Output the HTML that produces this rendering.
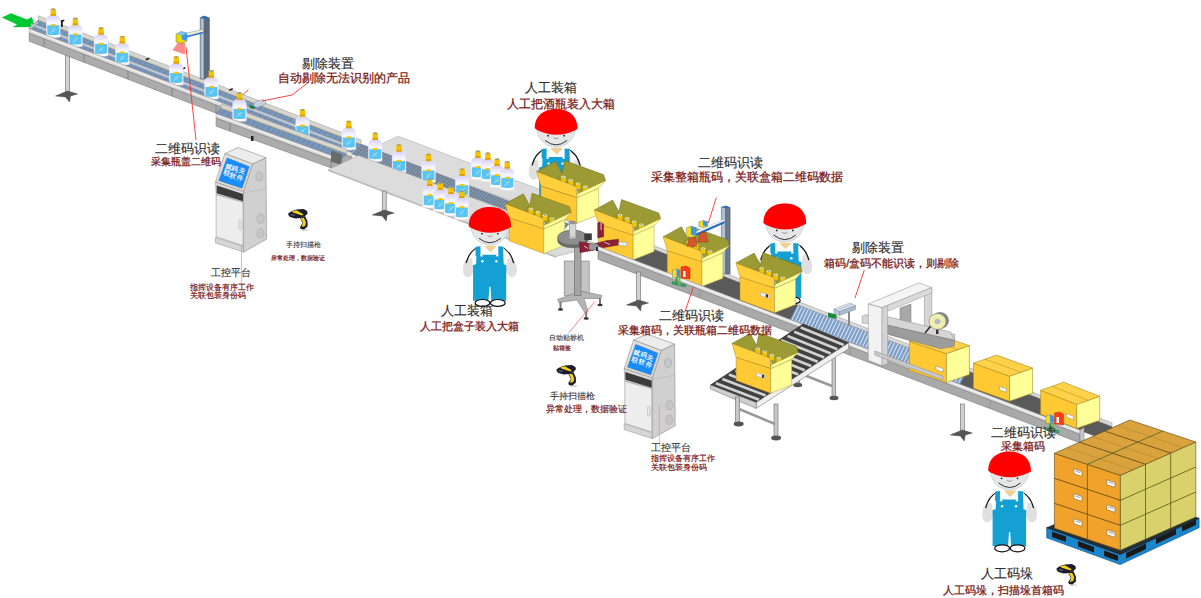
<!DOCTYPE html><html><head><meta charset="utf-8"><style>
html,body{margin:0;padding:0;background:#fff;width:1201px;height:598px;overflow:hidden}
svg{display:block;font-family:"Liberation Sans",sans-serif}
</style></head><body>
<svg width="1201" height="598" viewBox="0 0 1201 598">
<defs><linearGradient id="bg" x1="0" y1="0" x2="0" y2="1"><stop offset="0" stop-color="#d6cef8"/><stop offset="0.3" stop-color="#f6f4ff"/><stop offset="1" stop-color="#ffffff"/></linearGradient></defs>
<rect width="1201" height="598" fill="#fff"/>
<polygon points="1.8,17.6 11.1,13.2 26.9,19.6 31.9,17.0 35.1,27.0 12.6,27.2 17.0,24.6" fill="#00c832" stroke="none" stroke-width="0.6" />
<polygon points="398.2,136.2 600.0,212.1 575.0,224.0 370.3,149.3" fill="#dcdcdc" stroke="#b0b0b0" stroke-width="0.6" />
<polygon points="38.2,19.7 361.0,144.0 352.0,153.0 29.2,28.7" fill="#7391b4" stroke="#5d6f85" stroke-width="0.3" />
<polyline points="39.3,21.4 32.2,29.0" fill="none" stroke="#9db4cc" stroke-width="0.5" />
<polyline points="44.3,23.3 37.2,30.9" fill="none" stroke="#9db4cc" stroke-width="0.5" />
<polyline points="49.3,25.2 42.2,32.8" fill="none" stroke="#9db4cc" stroke-width="0.5" />
<polyline points="54.3,27.2 47.2,34.8" fill="none" stroke="#9db4cc" stroke-width="0.5" />
<polyline points="59.3,29.1 52.2,36.7" fill="none" stroke="#9db4cc" stroke-width="0.5" />
<polyline points="64.3,31.0 57.2,38.6" fill="none" stroke="#9db4cc" stroke-width="0.5" />
<polyline points="69.3,32.9 62.2,40.5" fill="none" stroke="#9db4cc" stroke-width="0.5" />
<polyline points="74.3,34.9 67.2,42.5" fill="none" stroke="#9db4cc" stroke-width="0.5" />
<polyline points="79.3,36.8 72.2,44.4" fill="none" stroke="#9db4cc" stroke-width="0.5" />
<polyline points="84.3,38.7 77.2,46.3" fill="none" stroke="#9db4cc" stroke-width="0.5" />
<polyline points="89.3,40.6 82.2,48.2" fill="none" stroke="#9db4cc" stroke-width="0.5" />
<polyline points="94.3,42.6 87.2,50.2" fill="none" stroke="#9db4cc" stroke-width="0.5" />
<polyline points="99.3,44.5 92.2,52.1" fill="none" stroke="#9db4cc" stroke-width="0.5" />
<polyline points="104.3,46.4 97.2,54.0" fill="none" stroke="#9db4cc" stroke-width="0.5" />
<polyline points="109.3,48.3 102.2,55.9" fill="none" stroke="#9db4cc" stroke-width="0.5" />
<polyline points="114.3,50.3 107.2,57.9" fill="none" stroke="#9db4cc" stroke-width="0.5" />
<polyline points="119.3,52.2 112.2,59.8" fill="none" stroke="#9db4cc" stroke-width="0.5" />
<polyline points="124.3,54.1 117.2,61.7" fill="none" stroke="#9db4cc" stroke-width="0.5" />
<polyline points="129.3,56.0 122.2,63.6" fill="none" stroke="#9db4cc" stroke-width="0.5" />
<polyline points="134.3,58.0 127.2,65.6" fill="none" stroke="#9db4cc" stroke-width="0.5" />
<polyline points="139.3,59.9 132.2,67.5" fill="none" stroke="#9db4cc" stroke-width="0.5" />
<polyline points="144.3,61.8 137.2,69.4" fill="none" stroke="#9db4cc" stroke-width="0.5" />
<polyline points="149.3,63.7 142.2,71.3" fill="none" stroke="#9db4cc" stroke-width="0.5" />
<polyline points="154.3,65.7 147.2,73.3" fill="none" stroke="#9db4cc" stroke-width="0.5" />
<polyline points="159.3,67.6 152.2,75.2" fill="none" stroke="#9db4cc" stroke-width="0.5" />
<polyline points="164.3,69.5 157.2,77.1" fill="none" stroke="#9db4cc" stroke-width="0.5" />
<polyline points="169.3,71.4 162.2,79.0" fill="none" stroke="#9db4cc" stroke-width="0.5" />
<polyline points="174.3,73.4 167.2,81.0" fill="none" stroke="#9db4cc" stroke-width="0.5" />
<polyline points="179.3,75.3 172.2,82.9" fill="none" stroke="#9db4cc" stroke-width="0.5" />
<polyline points="184.3,77.2 177.2,84.8" fill="none" stroke="#9db4cc" stroke-width="0.5" />
<polyline points="189.3,79.1 182.2,86.7" fill="none" stroke="#9db4cc" stroke-width="0.5" />
<polyline points="194.3,81.1 187.2,88.7" fill="none" stroke="#9db4cc" stroke-width="0.5" />
<polyline points="199.3,83.0 192.2,90.6" fill="none" stroke="#9db4cc" stroke-width="0.5" />
<polyline points="204.3,84.9 197.2,92.5" fill="none" stroke="#9db4cc" stroke-width="0.5" />
<polyline points="209.3,86.8 202.2,94.4" fill="none" stroke="#9db4cc" stroke-width="0.5" />
<polyline points="214.3,88.8 207.2,96.4" fill="none" stroke="#9db4cc" stroke-width="0.5" />
<polyline points="219.3,90.7 212.2,98.3" fill="none" stroke="#9db4cc" stroke-width="0.5" />
<polyline points="224.3,92.6 217.2,100.2" fill="none" stroke="#9db4cc" stroke-width="0.5" />
<polyline points="229.3,94.5 222.2,102.1" fill="none" stroke="#9db4cc" stroke-width="0.5" />
<polyline points="234.3,96.5 227.2,104.1" fill="none" stroke="#9db4cc" stroke-width="0.5" />
<polyline points="239.3,98.4 232.2,106.0" fill="none" stroke="#9db4cc" stroke-width="0.5" />
<polyline points="244.3,100.3 237.2,107.9" fill="none" stroke="#9db4cc" stroke-width="0.5" />
<polyline points="249.3,102.2 242.2,109.8" fill="none" stroke="#9db4cc" stroke-width="0.5" />
<polyline points="254.3,104.2 247.2,111.8" fill="none" stroke="#9db4cc" stroke-width="0.5" />
<polyline points="259.3,106.1 252.2,113.7" fill="none" stroke="#9db4cc" stroke-width="0.5" />
<polyline points="264.3,108.0 257.2,115.6" fill="none" stroke="#9db4cc" stroke-width="0.5" />
<polyline points="269.3,109.9 262.2,117.5" fill="none" stroke="#9db4cc" stroke-width="0.5" />
<polyline points="274.3,111.9 267.2,119.5" fill="none" stroke="#9db4cc" stroke-width="0.5" />
<polyline points="279.3,113.8 272.2,121.4" fill="none" stroke="#9db4cc" stroke-width="0.5" />
<polyline points="284.3,115.7 277.2,123.3" fill="none" stroke="#9db4cc" stroke-width="0.5" />
<polyline points="289.3,117.6 282.2,125.2" fill="none" stroke="#9db4cc" stroke-width="0.5" />
<polyline points="294.3,119.6 287.2,127.2" fill="none" stroke="#9db4cc" stroke-width="0.5" />
<polyline points="299.3,121.5 292.2,129.1" fill="none" stroke="#9db4cc" stroke-width="0.5" />
<polyline points="304.3,123.4 297.2,131.0" fill="none" stroke="#9db4cc" stroke-width="0.5" />
<polyline points="309.3,125.3 302.2,132.9" fill="none" stroke="#9db4cc" stroke-width="0.5" />
<polyline points="314.3,127.3 307.2,134.9" fill="none" stroke="#9db4cc" stroke-width="0.5" />
<polyline points="319.3,129.2 312.2,136.8" fill="none" stroke="#9db4cc" stroke-width="0.5" />
<polyline points="324.3,131.1 317.2,138.7" fill="none" stroke="#9db4cc" stroke-width="0.5" />
<polyline points="329.3,133.0 322.2,140.6" fill="none" stroke="#9db4cc" stroke-width="0.5" />
<polyline points="334.3,135.0 327.2,142.6" fill="none" stroke="#9db4cc" stroke-width="0.5" />
<polyline points="339.3,136.9 332.2,144.5" fill="none" stroke="#9db4cc" stroke-width="0.5" />
<polyline points="344.3,138.8 337.2,146.4" fill="none" stroke="#9db4cc" stroke-width="0.5" />
<polyline points="349.3,140.7 342.2,148.3" fill="none" stroke="#9db4cc" stroke-width="0.5" />
<polyline points="354.3,142.7 347.2,150.3" fill="none" stroke="#9db4cc" stroke-width="0.5" />
<polygon points="38.2,15.7 361.0,140.0 361.0,144.5 38.2,20.2" fill="#d6d6d6" stroke="#8e8e8e" stroke-width="0.5" />
<polyline points="38.2,19.4 361.0,143.7" fill="none" stroke="#d8c890" stroke-width="0.7" />
<polyline points="31.2,24.2 354.0,148.5" fill="none" stroke="#c4c8cc" stroke-width="2.2" />
<polygon points="361.0,144.0 569.0,224.1 560.0,234.1 352.0,154.0" fill="#6f8298" stroke="#56667a" stroke-width="0.4" />
<polyline points="361.0,144.5 352.3,153.5" fill="none" stroke="#a8b8c8" stroke-width="0.6" />
<polyline points="363.6,145.5 354.9,154.5" fill="none" stroke="#a8b8c8" stroke-width="0.6" />
<polyline points="366.2,146.5 357.5,155.5" fill="none" stroke="#a8b8c8" stroke-width="0.6" />
<polyline points="368.8,147.5 360.1,156.5" fill="none" stroke="#a8b8c8" stroke-width="0.6" />
<polyline points="371.4,148.5 362.7,157.5" fill="none" stroke="#a8b8c8" stroke-width="0.6" />
<polyline points="374.0,149.5 365.3,158.5" fill="none" stroke="#a8b8c8" stroke-width="0.6" />
<polyline points="376.6,150.5 367.9,159.5" fill="none" stroke="#a8b8c8" stroke-width="0.6" />
<polyline points="379.2,151.5 370.5,160.5" fill="none" stroke="#a8b8c8" stroke-width="0.6" />
<polyline points="381.8,152.5 373.1,161.5" fill="none" stroke="#a8b8c8" stroke-width="0.6" />
<polyline points="384.4,153.5 375.7,162.5" fill="none" stroke="#a8b8c8" stroke-width="0.6" />
<polyline points="387.0,154.5 378.3,163.5" fill="none" stroke="#a8b8c8" stroke-width="0.6" />
<polyline points="389.6,155.5 380.9,164.5" fill="none" stroke="#a8b8c8" stroke-width="0.6" />
<polyline points="392.2,156.5 383.5,165.5" fill="none" stroke="#a8b8c8" stroke-width="0.6" />
<polyline points="394.8,157.5 386.1,166.5" fill="none" stroke="#a8b8c8" stroke-width="0.6" />
<polyline points="397.4,158.5 388.7,167.5" fill="none" stroke="#a8b8c8" stroke-width="0.6" />
<polyline points="400.0,159.5 391.3,168.5" fill="none" stroke="#a8b8c8" stroke-width="0.6" />
<polyline points="402.6,160.5 393.9,169.5" fill="none" stroke="#a8b8c8" stroke-width="0.6" />
<polyline points="405.2,161.5 396.5,170.5" fill="none" stroke="#a8b8c8" stroke-width="0.6" />
<polyline points="407.8,162.5 399.1,171.5" fill="none" stroke="#a8b8c8" stroke-width="0.6" />
<polyline points="410.4,163.5 401.7,172.5" fill="none" stroke="#a8b8c8" stroke-width="0.6" />
<polyline points="413.0,164.5 404.3,173.5" fill="none" stroke="#a8b8c8" stroke-width="0.6" />
<polyline points="415.6,165.5 406.9,174.5" fill="none" stroke="#a8b8c8" stroke-width="0.6" />
<polyline points="418.2,166.5 409.5,175.5" fill="none" stroke="#a8b8c8" stroke-width="0.6" />
<polyline points="420.8,167.5 412.1,176.5" fill="none" stroke="#a8b8c8" stroke-width="0.6" />
<polyline points="423.4,168.5 414.7,177.5" fill="none" stroke="#a8b8c8" stroke-width="0.6" />
<polyline points="426.0,169.5 417.3,178.5" fill="none" stroke="#a8b8c8" stroke-width="0.6" />
<polyline points="428.6,170.5 419.9,179.5" fill="none" stroke="#a8b8c8" stroke-width="0.6" />
<polyline points="431.2,171.5 422.5,180.5" fill="none" stroke="#a8b8c8" stroke-width="0.6" />
<polyline points="433.8,172.5 425.1,181.5" fill="none" stroke="#a8b8c8" stroke-width="0.6" />
<polyline points="436.4,173.5 427.7,182.5" fill="none" stroke="#a8b8c8" stroke-width="0.6" />
<polyline points="439.0,174.5 430.3,183.5" fill="none" stroke="#a8b8c8" stroke-width="0.6" />
<polyline points="441.6,175.5 432.9,184.5" fill="none" stroke="#a8b8c8" stroke-width="0.6" />
<polyline points="444.2,176.5 435.5,185.5" fill="none" stroke="#a8b8c8" stroke-width="0.6" />
<polyline points="446.8,177.5 438.1,186.5" fill="none" stroke="#a8b8c8" stroke-width="0.6" />
<polyline points="449.4,178.5 440.7,187.5" fill="none" stroke="#a8b8c8" stroke-width="0.6" />
<polyline points="452.0,179.5 443.3,188.5" fill="none" stroke="#a8b8c8" stroke-width="0.6" />
<polyline points="454.6,180.5 445.9,189.5" fill="none" stroke="#a8b8c8" stroke-width="0.6" />
<polyline points="457.2,181.5 448.5,190.5" fill="none" stroke="#a8b8c8" stroke-width="0.6" />
<polyline points="459.8,182.5 451.1,191.5" fill="none" stroke="#a8b8c8" stroke-width="0.6" />
<polyline points="462.4,183.5 453.7,192.5" fill="none" stroke="#a8b8c8" stroke-width="0.6" />
<polyline points="465.0,184.5 456.3,193.5" fill="none" stroke="#a8b8c8" stroke-width="0.6" />
<polyline points="467.6,185.5 458.9,194.5" fill="none" stroke="#a8b8c8" stroke-width="0.6" />
<polyline points="470.2,186.5 461.5,195.5" fill="none" stroke="#a8b8c8" stroke-width="0.6" />
<polyline points="472.8,187.5 464.1,196.5" fill="none" stroke="#a8b8c8" stroke-width="0.6" />
<polyline points="475.4,188.5 466.7,197.5" fill="none" stroke="#a8b8c8" stroke-width="0.6" />
<polyline points="478.0,189.5 469.3,198.5" fill="none" stroke="#a8b8c8" stroke-width="0.6" />
<polyline points="480.6,190.5 471.9,199.5" fill="none" stroke="#a8b8c8" stroke-width="0.6" />
<polyline points="483.2,191.5 474.5,200.5" fill="none" stroke="#a8b8c8" stroke-width="0.6" />
<polyline points="485.8,192.5 477.1,201.5" fill="none" stroke="#a8b8c8" stroke-width="0.6" />
<polyline points="488.4,193.5 479.7,202.5" fill="none" stroke="#a8b8c8" stroke-width="0.6" />
<polyline points="491.0,194.5 482.3,203.5" fill="none" stroke="#a8b8c8" stroke-width="0.6" />
<polyline points="493.6,195.5 484.9,204.5" fill="none" stroke="#a8b8c8" stroke-width="0.6" />
<polyline points="496.2,196.5 487.5,205.5" fill="none" stroke="#a8b8c8" stroke-width="0.6" />
<polyline points="498.8,197.5 490.1,206.5" fill="none" stroke="#a8b8c8" stroke-width="0.6" />
<polyline points="501.4,198.5 492.7,207.5" fill="none" stroke="#a8b8c8" stroke-width="0.6" />
<polyline points="504.0,199.6 495.3,208.6" fill="none" stroke="#a8b8c8" stroke-width="0.6" />
<polyline points="506.6,200.6 497.9,209.6" fill="none" stroke="#a8b8c8" stroke-width="0.6" />
<polyline points="509.2,201.6 500.5,210.6" fill="none" stroke="#a8b8c8" stroke-width="0.6" />
<polyline points="511.8,202.6 503.1,211.6" fill="none" stroke="#a8b8c8" stroke-width="0.6" />
<polyline points="514.4,203.6 505.7,212.6" fill="none" stroke="#a8b8c8" stroke-width="0.6" />
<polyline points="517.0,204.6 508.3,213.6" fill="none" stroke="#a8b8c8" stroke-width="0.6" />
<polyline points="519.6,205.6 510.9,214.6" fill="none" stroke="#a8b8c8" stroke-width="0.6" />
<polyline points="522.2,206.6 513.5,215.6" fill="none" stroke="#a8b8c8" stroke-width="0.6" />
<polyline points="524.8,207.6 516.1,216.6" fill="none" stroke="#a8b8c8" stroke-width="0.6" />
<polyline points="527.4,208.6 518.7,217.6" fill="none" stroke="#a8b8c8" stroke-width="0.6" />
<polyline points="530.0,209.6 521.3,218.6" fill="none" stroke="#a8b8c8" stroke-width="0.6" />
<polyline points="532.6,210.6 523.9,219.6" fill="none" stroke="#a8b8c8" stroke-width="0.6" />
<polyline points="535.2,211.6 526.5,220.6" fill="none" stroke="#a8b8c8" stroke-width="0.6" />
<polyline points="537.8,212.6 529.1,221.6" fill="none" stroke="#a8b8c8" stroke-width="0.6" />
<polyline points="540.4,213.6 531.7,222.6" fill="none" stroke="#a8b8c8" stroke-width="0.6" />
<polyline points="543.0,214.6 534.3,223.6" fill="none" stroke="#a8b8c8" stroke-width="0.6" />
<polyline points="545.6,215.6 536.9,224.6" fill="none" stroke="#a8b8c8" stroke-width="0.6" />
<polyline points="548.2,216.6 539.5,225.6" fill="none" stroke="#a8b8c8" stroke-width="0.6" />
<polyline points="550.8,217.6 542.1,226.6" fill="none" stroke="#a8b8c8" stroke-width="0.6" />
<polyline points="553.4,218.6 544.7,227.6" fill="none" stroke="#a8b8c8" stroke-width="0.6" />
<polyline points="556.0,219.6 547.3,228.6" fill="none" stroke="#a8b8c8" stroke-width="0.6" />
<polyline points="558.6,220.6 549.9,229.6" fill="none" stroke="#a8b8c8" stroke-width="0.6" />
<polyline points="561.2,221.6 552.5,230.6" fill="none" stroke="#a8b8c8" stroke-width="0.6" />
<polyline points="563.8,222.6 555.1,231.6" fill="none" stroke="#a8b8c8" stroke-width="0.6" />
<polyline points="566.4,223.6 557.7,232.6" fill="none" stroke="#a8b8c8" stroke-width="0.6" />
<polygon points="29.2,27.6 38.2,20.6 38.2,23.2 29.2,30.2" fill="#c8c8c8" stroke="#7a7a7a" stroke-width="0.4" />
<rect x="61.0" y="20.0" width="1.8" height="7.0" fill="#222" stroke="none" stroke-width="0.6" />
<rect x="65.5" y="55.0" width="4.0" height="38.0" fill="#d0d0d0" stroke="#6a6a6a" stroke-width="0.6" />
<polygon points="55.5,96.0 67.5,91.0 77.5,94.0 70.5,96.0 69.5,102.0 65.5,97.0" fill="#555555" stroke="#333" stroke-width="0.4" />
<rect x="154.0" y="85.0" width="2.5" height="5.0" fill="#222" stroke="none" stroke-width="0.6" />
<polygon points="200.2,17.5 204.4,16.0 204.4,79.0 200.2,79.0" fill="#92b2ce" stroke="#3c4c5c" stroke-width="0.5" />
<polyline points="202.3,19.0 202.3,78.0" fill="none" stroke="#c8dcec" stroke-width="0.8" />
<polygon points="204.4,16.0 209.4,18.0 209.4,79.0 204.4,79.0" fill="#5e6a76" stroke="#3c4c5c" stroke-width="0.5" />
<polygon points="200.2,17.5 204.4,16.0 209.4,18.0 205.0,19.5" fill="#2b6fb0" stroke="none" stroke-width="0.6" />
<polygon points="185.0,33.5 203.5,29.3 203.5,31.8 185.0,36.5" fill="#f2f0d6" stroke="#7a8aa0" stroke-width="0.5" />
<polygon points="185.0,36.5 203.5,31.8 203.5,33.2 185.0,38.0" fill="#2e78c8" stroke="none" stroke-width="0.6" />
<polygon points="177.6,42.7 185.1,42.7 185.1,54.4 172.6,50.2" fill="#ff8a8a" stroke="none" stroke-width="0.6" />
<polygon points="176.0,34.0 181.0,31.5 187.0,33.0 187.0,41.0 182.0,43.5 176.0,42.0" fill="#e8d800" stroke="#5a6a30" stroke-width="0.4" />
<polygon points="181.0,31.5 187.0,33.0 187.0,41.0 182.0,39.5" fill="#3a9ae8" stroke="none" stroke-width="0.6" />
<polygon points="176.0,34.0 181.0,31.5 187.0,33.0 182.0,35.5" fill="#7fc0f0" stroke="none" stroke-width="0.6" />
<polygon points="145.5,59.0 149.0,57.5 149.5,59.0 146.0,60.5" fill="#1a1a1a" stroke="none" stroke-width="0.6" />
<polygon points="181.5,68.5 185.0,67.0 185.5,68.5 182.0,70.0" fill="#1a1a1a" stroke="none" stroke-width="0.6" />
<polygon points="229.0,89.4 232.5,87.9 233.0,89.4 229.5,90.9" fill="#1a1a1a" stroke="none" stroke-width="0.6" />
<polygon points="60.5,21.0 64.0,19.5 64.5,21.0 61.0,22.5" fill="#1a1a1a" stroke="none" stroke-width="0.6" />
<path d="M46.5,36.9 L46.5,20.7 Q46.5,15.6 51.3,15.6 L55.3,15.6 Q60.099999999999994,15.6 60.099999999999994,20.7 L60.099999999999994,36.9 Q53.3,38.5 46.5,36.9 Z" fill="url(#bg)" stroke="#ebe6f8" stroke-width="0.5"/>
<path d="M50.599999999999994,9.399999999999999 Q50.599999999999994,8.2 53.3,8.2 Q56.0,8.2 56.0,9.399999999999999 L56.0,15.799999999999999 L50.599999999999994,15.799999999999999 Z" fill="#f6c200"/>
<rect x="50.6" y="14.0" width="5.4" height="1.8" fill="#dca000" stroke="none" stroke-width="0.6" />
<ellipse cx="53.3" cy="9.2" rx="1.9" ry="0.8" fill="#7f98c0" stroke="none" stroke-width="0.6" />
<path d="M47.3,25.2 L59.3,25.2 L59.3,34.5 Q53.3,35.8 47.3,34.5 Z" fill="#58c4f2"/>
<ellipse cx="53.3" cy="25.0" rx="2.8" ry="1.1" fill="#f6c400" stroke="none" stroke-width="0.6" />
<polyline points="50.8,32.7 55.8,28.0" fill="none" stroke="#d8f2ff" stroke-width="0.7" />
<polyline points="51.3,28.7 54.8,31.7" fill="none" stroke="#bfe6f8" stroke-width="0.5" />
<path d="M68.60000000000001,46.3 L68.60000000000001,30.1 Q68.60000000000001,25.0 73.4,25.0 L77.4,25.0 Q82.2,25.0 82.2,30.1 L82.2,46.3 Q75.4,47.9 68.60000000000001,46.3 Z" fill="url(#bg)" stroke="#ebe6f8" stroke-width="0.5"/>
<path d="M72.7,18.8 Q72.7,17.6 75.4,17.6 Q78.10000000000001,17.6 78.10000000000001,18.8 L78.10000000000001,25.200000000000003 L72.7,25.200000000000003 Z" fill="#f6c200"/>
<rect x="72.7" y="23.4" width="5.4" height="1.8" fill="#dca000" stroke="none" stroke-width="0.6" />
<ellipse cx="75.4" cy="18.6" rx="1.9" ry="0.8" fill="#7f98c0" stroke="none" stroke-width="0.6" />
<path d="M69.4,34.6 L81.4,34.6 L81.4,43.900000000000006 Q75.4,45.2 69.4,43.900000000000006 Z" fill="#58c4f2"/>
<ellipse cx="75.4" cy="34.4" rx="2.8" ry="1.1" fill="#f6c400" stroke="none" stroke-width="0.6" />
<polyline points="72.9,42.1 77.9,37.4" fill="none" stroke="#d8f2ff" stroke-width="0.7" />
<polyline points="73.4,38.1 76.9,41.1" fill="none" stroke="#bfe6f8" stroke-width="0.5" />
<path d="M94.3,55.7 L94.3,39.5 Q94.3,34.4 99.1,34.4 L103.1,34.4 Q107.89999999999999,34.4 107.89999999999999,39.5 L107.89999999999999,55.7 Q101.1,57.300000000000004 94.3,55.7 Z" fill="url(#bg)" stroke="#ebe6f8" stroke-width="0.5"/>
<path d="M98.39999999999999,28.2 Q98.39999999999999,27 101.1,27 Q103.8,27 103.8,28.2 L103.8,34.6 L98.39999999999999,34.6 Z" fill="#f6c200"/>
<rect x="98.4" y="32.8" width="5.4" height="1.8" fill="#dca000" stroke="none" stroke-width="0.6" />
<ellipse cx="101.1" cy="28.0" rx="1.9" ry="0.8" fill="#7f98c0" stroke="none" stroke-width="0.6" />
<path d="M95.1,44 L107.1,44 L107.1,53.3 Q101.1,54.6 95.1,53.3 Z" fill="#58c4f2"/>
<ellipse cx="101.1" cy="43.8" rx="2.8" ry="1.1" fill="#f6c400" stroke="none" stroke-width="0.6" />
<polyline points="98.6,51.5 103.6,46.8" fill="none" stroke="#d8f2ff" stroke-width="0.7" />
<polyline points="99.1,47.5 102.6,50.5" fill="none" stroke="#bfe6f8" stroke-width="0.5" />
<path d="M115.5,64.4 L115.5,48.2 Q115.5,43.1 120.3,43.1 L124.3,43.1 Q129.1,43.1 129.1,48.2 L129.1,64.4 Q122.3,66.0 115.5,64.4 Z" fill="url(#bg)" stroke="#ebe6f8" stroke-width="0.5"/>
<path d="M119.6,36.900000000000006 Q119.6,35.7 122.3,35.7 Q125.0,35.7 125.0,36.900000000000006 L125.0,43.300000000000004 L119.6,43.300000000000004 Z" fill="#f6c200"/>
<rect x="119.6" y="41.5" width="5.4" height="1.8" fill="#dca000" stroke="none" stroke-width="0.6" />
<ellipse cx="122.3" cy="36.7" rx="1.9" ry="0.8" fill="#7f98c0" stroke="none" stroke-width="0.6" />
<path d="M116.3,52.7 L128.3,52.7 L128.3,62.0 Q122.3,63.300000000000004 116.3,62.0 Z" fill="#58c4f2"/>
<ellipse cx="122.3" cy="52.5" rx="2.8" ry="1.1" fill="#f6c400" stroke="none" stroke-width="0.6" />
<polyline points="119.8,60.2 124.8,55.5" fill="none" stroke="#d8f2ff" stroke-width="0.7" />
<polyline points="120.3,56.2 123.8,59.2" fill="none" stroke="#bfe6f8" stroke-width="0.5" />
<path d="M169.5,84.7 L169.5,68.5 Q169.5,63.4 174.3,63.4 L178.3,63.4 Q183.10000000000002,63.4 183.10000000000002,68.5 L183.10000000000002,84.7 Q176.3,86.3 169.5,84.7 Z" fill="url(#bg)" stroke="#ebe6f8" stroke-width="0.5"/>
<path d="M173.60000000000002,57.2 Q173.60000000000002,56 176.3,56 Q179.0,56 179.0,57.2 L179.0,63.6 L173.60000000000002,63.6 Z" fill="#f6c200"/>
<rect x="173.6" y="61.8" width="5.4" height="1.8" fill="#dca000" stroke="none" stroke-width="0.6" />
<ellipse cx="176.3" cy="57.0" rx="1.9" ry="0.8" fill="#7f98c0" stroke="none" stroke-width="0.6" />
<path d="M170.3,73 L182.3,73 L182.3,82.3 Q176.3,83.6 170.3,82.3 Z" fill="#58c4f2"/>
<ellipse cx="176.3" cy="72.8" rx="2.8" ry="1.1" fill="#f6c400" stroke="none" stroke-width="0.6" />
<polyline points="173.8,80.5 178.8,75.8" fill="none" stroke="#d8f2ff" stroke-width="0.7" />
<polyline points="174.3,76.5 177.8,79.5" fill="none" stroke="#bfe6f8" stroke-width="0.5" />
<path d="M204.6,98.7 L204.6,82.5 Q204.6,77.4 209.4,77.4 L213.4,77.4 Q218.20000000000002,77.4 218.20000000000002,82.5 L218.20000000000002,98.7 Q211.4,100.3 204.6,98.7 Z" fill="url(#bg)" stroke="#ebe6f8" stroke-width="0.5"/>
<path d="M208.70000000000002,71.2 Q208.70000000000002,70 211.4,70 Q214.1,70 214.1,71.2 L214.1,77.6 L208.70000000000002,77.6 Z" fill="#f6c200"/>
<rect x="208.7" y="75.8" width="5.4" height="1.8" fill="#dca000" stroke="none" stroke-width="0.6" />
<ellipse cx="211.4" cy="71.0" rx="1.9" ry="0.8" fill="#7f98c0" stroke="none" stroke-width="0.6" />
<path d="M205.4,87 L217.4,87 L217.4,96.3 Q211.4,97.6 205.4,96.3 Z" fill="#58c4f2"/>
<ellipse cx="211.4" cy="86.8" rx="2.8" ry="1.1" fill="#f6c400" stroke="none" stroke-width="0.6" />
<polyline points="208.9,94.5 213.9,89.8" fill="none" stroke="#d8f2ff" stroke-width="0.7" />
<polyline points="209.4,90.5 212.9,93.5" fill="none" stroke="#bfe6f8" stroke-width="0.5" />
<path d="M295.7,137.6 L295.7,121.4 Q295.7,116.30000000000001 300.5,116.30000000000001 L304.5,116.30000000000001 Q309.3,116.30000000000001 309.3,121.4 L309.3,137.6 Q302.5,139.2 295.7,137.6 Z" fill="url(#bg)" stroke="#ebe6f8" stroke-width="0.5"/>
<path d="M299.8,110.10000000000001 Q299.8,108.9 302.5,108.9 Q305.2,108.9 305.2,110.10000000000001 L305.2,116.5 L299.8,116.5 Z" fill="#f6c200"/>
<rect x="299.8" y="114.7" width="5.4" height="1.8" fill="#dca000" stroke="none" stroke-width="0.6" />
<ellipse cx="302.5" cy="109.9" rx="1.9" ry="0.8" fill="#7f98c0" stroke="none" stroke-width="0.6" />
<path d="M296.5,125.9 L308.5,125.9 L308.5,135.20000000000002 Q302.5,136.5 296.5,135.20000000000002 Z" fill="#58c4f2"/>
<ellipse cx="302.5" cy="125.7" rx="2.8" ry="1.1" fill="#f6c400" stroke="none" stroke-width="0.6" />
<polyline points="300.0,133.4 305.0,128.7" fill="none" stroke="#d8f2ff" stroke-width="0.7" />
<polyline points="300.5,129.4 304.0,132.4" fill="none" stroke="#bfe6f8" stroke-width="0.5" />
<path d="M342.0,149.29999999999998 L342.0,133.1 Q342.0,128.0 346.8,128.0 L350.8,128.0 Q355.6,128.0 355.6,133.1 L355.6,149.29999999999998 Q348.8,150.89999999999998 342.0,149.29999999999998 Z" fill="url(#bg)" stroke="#ebe6f8" stroke-width="0.5"/>
<path d="M346.1,121.8 Q346.1,120.6 348.8,120.6 Q351.5,120.6 351.5,121.8 L351.5,128.2 L346.1,128.2 Z" fill="#f6c200"/>
<rect x="346.1" y="126.4" width="5.4" height="1.8" fill="#dca000" stroke="none" stroke-width="0.6" />
<ellipse cx="348.8" cy="121.6" rx="1.9" ry="0.8" fill="#7f98c0" stroke="none" stroke-width="0.6" />
<path d="M342.8,137.6 L354.8,137.6 L354.8,146.9 Q348.8,148.2 342.8,146.9 Z" fill="#58c4f2"/>
<ellipse cx="348.8" cy="137.4" rx="2.8" ry="1.1" fill="#f6c400" stroke="none" stroke-width="0.6" />
<polyline points="346.3,145.1 351.3,140.4" fill="none" stroke="#d8f2ff" stroke-width="0.7" />
<polyline points="346.8,141.1 350.3,144.1" fill="none" stroke="#bfe6f8" stroke-width="0.5" />
<path d="M368.4,161.0 L368.4,144.8 Q368.4,139.70000000000002 373.2,139.70000000000002 L377.2,139.70000000000002 Q382.0,139.70000000000002 382.0,144.8 L382.0,161.0 Q375.2,162.6 368.4,161.0 Z" fill="url(#bg)" stroke="#ebe6f8" stroke-width="0.5"/>
<path d="M372.5,133.5 Q372.5,132.3 375.2,132.3 Q377.9,132.3 377.9,133.5 L377.9,139.9 L372.5,139.9 Z" fill="#f6c200"/>
<rect x="372.5" y="138.1" width="5.4" height="1.8" fill="#dca000" stroke="none" stroke-width="0.6" />
<ellipse cx="375.2" cy="133.3" rx="1.9" ry="0.8" fill="#7f98c0" stroke="none" stroke-width="0.6" />
<path d="M369.2,149.3 L381.2,149.3 L381.2,158.60000000000002 Q375.2,159.9 369.2,158.60000000000002 Z" fill="#58c4f2"/>
<ellipse cx="375.2" cy="149.1" rx="2.8" ry="1.1" fill="#f6c400" stroke="none" stroke-width="0.6" />
<polyline points="372.7,156.8 377.7,152.1" fill="none" stroke="#d8f2ff" stroke-width="0.7" />
<polyline points="373.2,152.8 376.7,155.8" fill="none" stroke="#bfe6f8" stroke-width="0.5" />
<path d="M392.2,172.7 L392.2,156.5 Q392.2,151.4 397,151.4 L401,151.4 Q405.8,151.4 405.8,156.5 L405.8,172.7 Q399,174.29999999999998 392.2,172.7 Z" fill="url(#bg)" stroke="#ebe6f8" stroke-width="0.5"/>
<path d="M396.3,145.2 Q396.3,144 399,144 Q401.7,144 401.7,145.2 L401.7,151.6 L396.3,151.6 Z" fill="#f6c200"/>
<rect x="396.3" y="149.8" width="5.4" height="1.8" fill="#dca000" stroke="none" stroke-width="0.6" />
<ellipse cx="399.0" cy="145.0" rx="1.9" ry="0.8" fill="#7f98c0" stroke="none" stroke-width="0.6" />
<path d="M393,161 L405,161 L405,170.3 Q399,171.6 393,170.3 Z" fill="#58c4f2"/>
<ellipse cx="399.0" cy="160.8" rx="2.8" ry="1.1" fill="#f6c400" stroke="none" stroke-width="0.6" />
<polyline points="396.5,168.5 401.5,163.8" fill="none" stroke="#d8f2ff" stroke-width="0.7" />
<polyline points="397.0,164.5 400.5,167.5" fill="none" stroke="#bfe6f8" stroke-width="0.5" />
<path d="M421.7,182.2 L421.7,166.0 Q421.7,160.9 426.5,160.9 L430.5,160.9 Q435.3,160.9 435.3,166.0 L435.3,182.2 Q428.5,183.79999999999998 421.7,182.2 Z" fill="url(#bg)" stroke="#ebe6f8" stroke-width="0.5"/>
<path d="M425.8,154.7 Q425.8,153.5 428.5,153.5 Q431.2,153.5 431.2,154.7 L431.2,161.1 L425.8,161.1 Z" fill="#f6c200"/>
<rect x="425.8" y="159.3" width="5.4" height="1.8" fill="#dca000" stroke="none" stroke-width="0.6" />
<ellipse cx="428.5" cy="154.5" rx="1.9" ry="0.8" fill="#7f98c0" stroke="none" stroke-width="0.6" />
<path d="M422.5,170.5 L434.5,170.5 L434.5,179.8 Q428.5,181.1 422.5,179.8 Z" fill="#58c4f2"/>
<ellipse cx="428.5" cy="170.3" rx="2.8" ry="1.1" fill="#f6c400" stroke="none" stroke-width="0.6" />
<polyline points="426.0,178.0 431.0,173.3" fill="none" stroke="#d8f2ff" stroke-width="0.7" />
<polyline points="426.5,174.0 430.0,177.0" fill="none" stroke="#bfe6f8" stroke-width="0.5" />
<path d="M455.4,196.89999999999998 L455.4,180.7 Q455.4,175.6 460.2,175.6 L464.2,175.6 Q469.0,175.6 469.0,180.7 L469.0,196.89999999999998 Q462.2,198.49999999999997 455.4,196.89999999999998 Z" fill="url(#bg)" stroke="#ebe6f8" stroke-width="0.5"/>
<path d="M459.5,169.39999999999998 Q459.5,168.2 462.2,168.2 Q464.9,168.2 464.9,169.39999999999998 L464.9,175.79999999999998 L459.5,175.79999999999998 Z" fill="#f6c200"/>
<rect x="459.5" y="174.0" width="5.4" height="1.8" fill="#dca000" stroke="none" stroke-width="0.6" />
<ellipse cx="462.2" cy="169.2" rx="1.9" ry="0.8" fill="#7f98c0" stroke="none" stroke-width="0.6" />
<path d="M456.2,185.2 L468.2,185.2 L468.2,194.5 Q462.2,195.79999999999998 456.2,194.5 Z" fill="#58c4f2"/>
<ellipse cx="462.2" cy="185.0" rx="2.8" ry="1.1" fill="#f6c400" stroke="none" stroke-width="0.6" />
<polyline points="459.7,192.7 464.7,188.0" fill="none" stroke="#d8f2ff" stroke-width="0.7" />
<polyline points="460.2,188.7 463.7,191.7" fill="none" stroke="#bfe6f8" stroke-width="0.5" />
<polygon points="29.2,28.4 352.0,152.7 352.0,157.5 29.2,33.2" fill="#dadada" stroke="#8a8a8a" stroke-width="0.5" />
<polyline points="29.2,30.2 352.0,154.5" fill="none" stroke="#f4f4f4" stroke-width="1.0" />
<polygon points="29.2,33.2 352.0,157.5 352.0,165.5 29.2,41.2" fill="#acacac" stroke="#7a7a7a" stroke-width="0.6" />
<polyline points="44.0,38.9 44.0,46.9" fill="none" stroke="#7a7a7a" stroke-width="0.8" />
<polyline points="84.0,54.3 84.0,62.3" fill="none" stroke="#7a7a7a" stroke-width="0.8" />
<polyline points="128.0,71.3 128.0,79.3" fill="none" stroke="#7a7a7a" stroke-width="0.8" />
<polyline points="172.0,88.2 172.0,96.2" fill="none" stroke="#7a7a7a" stroke-width="0.8" />
<polyline points="216.0,105.1 216.0,113.1" fill="none" stroke="#7a7a7a" stroke-width="0.8" />
<polyline points="260.0,122.1 260.0,130.1" fill="none" stroke="#7a7a7a" stroke-width="0.8" />
<polyline points="304.0,139.0 304.0,147.0" fill="none" stroke="#7a7a7a" stroke-width="0.8" />
<polygon points="254.0,103.0 262.5,99.5 265.5,101.0 265.5,104.0 257.0,107.5 254.0,106.0" fill="#d0d8e2" stroke="#7a8490" stroke-width="0.5" />
<polyline points="256.0,105.5 264.0,102.0" fill="none" stroke="#a8c0d8" stroke-width="0.8" />
<polygon points="249.5,105.2 254.4,106.5 254.4,109.2 249.5,108.0" fill="#1a7a36" stroke="none" stroke-width="0.6" />
<polygon points="221.1,107.7 346.8,153.3 341.8,159.3 216.1,113.7" fill="#7391b4" stroke="#5d6f85" stroke-width="0.3" />
<polyline points="222.6,109.0 219.1,113.9" fill="none" stroke="#9db4cc" stroke-width="0.5" />
<polyline points="227.6,110.8 224.1,115.7" fill="none" stroke="#9db4cc" stroke-width="0.5" />
<polyline points="232.6,112.7 229.1,117.6" fill="none" stroke="#9db4cc" stroke-width="0.5" />
<polyline points="237.6,114.5 234.1,119.4" fill="none" stroke="#9db4cc" stroke-width="0.5" />
<polyline points="242.6,116.3 239.1,121.2" fill="none" stroke="#9db4cc" stroke-width="0.5" />
<polyline points="247.6,118.1 244.1,123.0" fill="none" stroke="#9db4cc" stroke-width="0.5" />
<polyline points="252.6,119.9 249.1,124.8" fill="none" stroke="#9db4cc" stroke-width="0.5" />
<polyline points="257.6,121.7 254.1,126.6" fill="none" stroke="#9db4cc" stroke-width="0.5" />
<polyline points="262.6,123.5 259.1,128.4" fill="none" stroke="#9db4cc" stroke-width="0.5" />
<polyline points="267.6,125.4 264.1,130.3" fill="none" stroke="#9db4cc" stroke-width="0.5" />
<polyline points="272.6,127.2 269.1,132.1" fill="none" stroke="#9db4cc" stroke-width="0.5" />
<polyline points="277.6,129.0 274.1,133.9" fill="none" stroke="#9db4cc" stroke-width="0.5" />
<polyline points="282.6,130.8 279.1,135.7" fill="none" stroke="#9db4cc" stroke-width="0.5" />
<polyline points="287.6,132.6 284.1,137.5" fill="none" stroke="#9db4cc" stroke-width="0.5" />
<polyline points="292.6,134.4 289.1,139.3" fill="none" stroke="#9db4cc" stroke-width="0.5" />
<polyline points="297.6,136.3 294.1,141.2" fill="none" stroke="#9db4cc" stroke-width="0.5" />
<polyline points="302.6,138.1 299.1,143.0" fill="none" stroke="#9db4cc" stroke-width="0.5" />
<polyline points="307.6,139.9 304.1,144.8" fill="none" stroke="#9db4cc" stroke-width="0.5" />
<polyline points="312.6,141.7 309.1,146.6" fill="none" stroke="#9db4cc" stroke-width="0.5" />
<polyline points="317.6,143.5 314.1,148.4" fill="none" stroke="#9db4cc" stroke-width="0.5" />
<polyline points="322.6,145.3 319.1,150.2" fill="none" stroke="#9db4cc" stroke-width="0.5" />
<polyline points="327.6,147.1 324.1,152.0" fill="none" stroke="#9db4cc" stroke-width="0.5" />
<polyline points="332.6,149.0 329.1,153.9" fill="none" stroke="#9db4cc" stroke-width="0.5" />
<polyline points="337.6,150.8 334.1,155.7" fill="none" stroke="#9db4cc" stroke-width="0.5" />
<polyline points="342.6,152.6 339.1,157.5" fill="none" stroke="#9db4cc" stroke-width="0.5" />
<polygon points="221.1,103.7 346.8,149.3 346.8,153.8 221.1,108.2" fill="#d6d6d6" stroke="#8e8e8e" stroke-width="0.5" />
<polyline points="221.1,107.4 346.8,153.0" fill="none" stroke="#d8c890" stroke-width="0.7" />
<path d="M232.7,120.8 L232.7,104.6 Q232.7,99.5 237.5,99.5 L241.5,99.5 Q246.3,99.5 246.3,104.6 L246.3,120.8 Q239.5,122.39999999999999 232.7,120.8 Z" fill="url(#bg)" stroke="#ebe6f8" stroke-width="0.5"/>
<path d="M236.8,93.3 Q236.8,92.1 239.5,92.1 Q242.2,92.1 242.2,93.3 L242.2,99.69999999999999 L236.8,99.69999999999999 Z" fill="#f6c200"/>
<rect x="236.8" y="97.9" width="5.4" height="1.8" fill="#dca000" stroke="none" stroke-width="0.6" />
<ellipse cx="239.5" cy="93.1" rx="1.9" ry="0.8" fill="#7f98c0" stroke="none" stroke-width="0.6" />
<path d="M233.5,109.1 L245.5,109.1 L245.5,118.39999999999999 Q239.5,119.69999999999999 233.5,118.39999999999999 Z" fill="#58c4f2"/>
<ellipse cx="239.5" cy="108.9" rx="2.8" ry="1.1" fill="#f6c400" stroke="none" stroke-width="0.6" />
<polyline points="237.0,116.6 242.0,111.9" fill="none" stroke="#d8f2ff" stroke-width="0.7" />
<polyline points="237.5,112.6 241.0,115.6" fill="none" stroke="#bfe6f8" stroke-width="0.5" />
<polygon points="216.1,113.4 341.8,159.0 341.8,163.8 216.1,118.2" fill="#dadada" stroke="#8a8a8a" stroke-width="0.5" />
<polyline points="216.1,115.2 341.8,160.8" fill="none" stroke="#f4f4f4" stroke-width="1.0" />
<polygon points="216.1,118.2 341.8,163.8 341.8,171.8 216.1,126.2" fill="#acacac" stroke="#7a7a7a" stroke-width="0.6" />
<polyline points="230.0,123.2 230.0,131.2" fill="none" stroke="#7a7a7a" stroke-width="0.8" />
<polyline points="331.0,159.9 331.0,167.9" fill="none" stroke="#7a7a7a" stroke-width="0.8" />
<polygon points="331.0,150.5 341.8,154.2 341.8,165.2 331.0,161.5" fill="#6a6a6a" stroke="none" stroke-width="0.6" />
<rect x="251.0" y="136.0" width="2.5" height="5.0" fill="#222" stroke="none" stroke-width="0.6" />
<polygon points="358.5,155.5 600.0,245.0 556.0,256.5 328.3,169.7" fill="#dcdcdc" stroke="#a8a8a8" stroke-width="0.6" />
<polyline points="328.3,170.5 556.0,257.3" fill="none" stroke="#9a9a9a" stroke-width="0.8" />
<rect x="382.2" y="191.0" width="4.0" height="21.0" fill="#d0d0d0" stroke="#6a6a6a" stroke-width="0.6" />
<polygon points="372.2,215.0 384.2,210.0 394.2,213.0 387.2,215.0 386.2,221.0 382.2,216.0" fill="#555555" stroke="#333" stroke-width="0.4" />
<path d="M471.09999999999997,179.0 L471.09999999999997,162.8 Q471.09999999999997,157.70000000000002 475.9,157.70000000000002 L479.9,157.70000000000002 Q484.7,157.70000000000002 484.7,162.8 L484.7,179.0 Q477.9,180.6 471.09999999999997,179.0 Z" fill="url(#bg)" stroke="#ebe6f8" stroke-width="0.5"/>
<path d="M475.2,151.5 Q475.2,150.3 477.9,150.3 Q480.59999999999997,150.3 480.59999999999997,151.5 L480.59999999999997,157.9 L475.2,157.9 Z" fill="#f6c200"/>
<rect x="475.2" y="156.1" width="5.4" height="1.8" fill="#dca000" stroke="none" stroke-width="0.6" />
<ellipse cx="477.9" cy="151.3" rx="1.9" ry="0.8" fill="#7f98c0" stroke="none" stroke-width="0.6" />
<path d="M471.9,167.3 L483.9,167.3 L483.9,176.60000000000002 Q477.9,177.9 471.9,176.60000000000002 Z" fill="#58c4f2"/>
<ellipse cx="477.9" cy="167.1" rx="2.8" ry="1.1" fill="#f6c400" stroke="none" stroke-width="0.6" />
<polyline points="475.4,174.8 480.4,170.1" fill="none" stroke="#d8f2ff" stroke-width="0.7" />
<polyline points="475.9,170.8 479.4,173.8" fill="none" stroke="#bfe6f8" stroke-width="0.5" />
<path d="M481.0,180.89999999999998 L481.0,164.7 Q481.0,159.6 485.8,159.6 L489.8,159.6 Q494.6,159.6 494.6,164.7 L494.6,180.89999999999998 Q487.8,182.49999999999997 481.0,180.89999999999998 Z" fill="url(#bg)" stroke="#ebe6f8" stroke-width="0.5"/>
<path d="M485.1,153.39999999999998 Q485.1,152.2 487.8,152.2 Q490.5,152.2 490.5,153.39999999999998 L490.5,159.79999999999998 L485.1,159.79999999999998 Z" fill="#f6c200"/>
<rect x="485.1" y="158.0" width="5.4" height="1.8" fill="#dca000" stroke="none" stroke-width="0.6" />
<ellipse cx="487.8" cy="153.2" rx="1.9" ry="0.8" fill="#7f98c0" stroke="none" stroke-width="0.6" />
<path d="M481.8,169.2 L493.8,169.2 L493.8,178.5 Q487.8,179.79999999999998 481.8,178.5 Z" fill="#58c4f2"/>
<ellipse cx="487.8" cy="169.0" rx="2.8" ry="1.1" fill="#f6c400" stroke="none" stroke-width="0.6" />
<polyline points="485.3,176.7 490.3,172.0" fill="none" stroke="#d8f2ff" stroke-width="0.7" />
<polyline points="485.8,172.7 489.3,175.7" fill="none" stroke="#bfe6f8" stroke-width="0.5" />
<path d="M490.3,187.0 L490.3,170.8 Q490.3,165.70000000000002 495.1,165.70000000000002 L499.1,165.70000000000002 Q503.90000000000003,165.70000000000002 503.90000000000003,170.8 L503.90000000000003,187.0 Q497.1,188.6 490.3,187.0 Z" fill="url(#bg)" stroke="#ebe6f8" stroke-width="0.5"/>
<path d="M494.40000000000003,159.5 Q494.40000000000003,158.3 497.1,158.3 Q499.8,158.3 499.8,159.5 L499.8,165.9 L494.40000000000003,165.9 Z" fill="#f6c200"/>
<rect x="494.4" y="164.1" width="5.4" height="1.8" fill="#dca000" stroke="none" stroke-width="0.6" />
<ellipse cx="497.1" cy="159.3" rx="1.9" ry="0.8" fill="#7f98c0" stroke="none" stroke-width="0.6" />
<path d="M491.1,175.3 L503.1,175.3 L503.1,184.60000000000002 Q497.1,185.9 491.1,184.60000000000002 Z" fill="#58c4f2"/>
<ellipse cx="497.1" cy="175.1" rx="2.8" ry="1.1" fill="#f6c400" stroke="none" stroke-width="0.6" />
<polyline points="494.6,182.8 499.6,178.1" fill="none" stroke="#d8f2ff" stroke-width="0.7" />
<polyline points="495.1,178.8 498.6,181.8" fill="none" stroke="#bfe6f8" stroke-width="0.5" />
<path d="M500.5,189.7 L500.5,173.5 Q500.5,168.4 505.3,168.4 L509.3,168.4 Q514.1,168.4 514.1,173.5 L514.1,189.7 Q507.3,191.29999999999998 500.5,189.7 Z" fill="url(#bg)" stroke="#ebe6f8" stroke-width="0.5"/>
<path d="M504.6,162.2 Q504.6,161 507.3,161 Q510.0,161 510.0,162.2 L510.0,168.6 L504.6,168.6 Z" fill="#f6c200"/>
<rect x="504.6" y="166.8" width="5.4" height="1.8" fill="#dca000" stroke="none" stroke-width="0.6" />
<ellipse cx="507.3" cy="162.0" rx="1.9" ry="0.8" fill="#7f98c0" stroke="none" stroke-width="0.6" />
<path d="M501.3,178 L513.3,178 L513.3,187.3 Q507.3,188.6 501.3,187.3 Z" fill="#58c4f2"/>
<ellipse cx="507.3" cy="177.8" rx="2.8" ry="1.1" fill="#f6c400" stroke="none" stroke-width="0.6" />
<polyline points="504.8,185.5 509.8,180.8" fill="none" stroke="#d8f2ff" stroke-width="0.7" />
<polyline points="505.3,181.5 508.8,184.5" fill="none" stroke="#bfe6f8" stroke-width="0.5" />
<path d="M422.9,207.1 L422.9,190.9 Q422.9,185.8 427.7,185.8 L431.7,185.8 Q436.5,185.8 436.5,190.9 L436.5,207.1 Q429.7,208.7 422.9,207.1 Z" fill="url(#bg)" stroke="#ebe6f8" stroke-width="0.5"/>
<path d="M427.0,179.6 Q427.0,178.4 429.7,178.4 Q432.4,178.4 432.4,179.6 L432.4,186.0 L427.0,186.0 Z" fill="#f6c200"/>
<rect x="427.0" y="184.2" width="5.4" height="1.8" fill="#dca000" stroke="none" stroke-width="0.6" />
<ellipse cx="429.7" cy="179.4" rx="1.9" ry="0.8" fill="#7f98c0" stroke="none" stroke-width="0.6" />
<path d="M423.7,195.4 L435.7,195.4 L435.7,204.70000000000002 Q429.7,206.0 423.7,204.70000000000002 Z" fill="#58c4f2"/>
<ellipse cx="429.7" cy="195.2" rx="2.8" ry="1.1" fill="#f6c400" stroke="none" stroke-width="0.6" />
<polyline points="427.2,202.9 432.2,198.2" fill="none" stroke="#d8f2ff" stroke-width="0.7" />
<polyline points="427.7,198.9 431.2,201.9" fill="none" stroke="#bfe6f8" stroke-width="0.5" />
<path d="M433.59999999999997,211.1 L433.59999999999997,194.9 Q433.59999999999997,189.8 438.4,189.8 L442.4,189.8 Q447.2,189.8 447.2,194.9 L447.2,211.1 Q440.4,212.7 433.59999999999997,211.1 Z" fill="url(#bg)" stroke="#ebe6f8" stroke-width="0.5"/>
<path d="M437.7,183.6 Q437.7,182.4 440.4,182.4 Q443.09999999999997,182.4 443.09999999999997,183.6 L443.09999999999997,190.0 L437.7,190.0 Z" fill="#f6c200"/>
<rect x="437.7" y="188.2" width="5.4" height="1.8" fill="#dca000" stroke="none" stroke-width="0.6" />
<ellipse cx="440.4" cy="183.4" rx="1.9" ry="0.8" fill="#7f98c0" stroke="none" stroke-width="0.6" />
<path d="M434.4,199.4 L446.4,199.4 L446.4,208.70000000000002 Q440.4,210.0 434.4,208.70000000000002 Z" fill="#58c4f2"/>
<ellipse cx="440.4" cy="199.2" rx="2.8" ry="1.1" fill="#f6c400" stroke="none" stroke-width="0.6" />
<polyline points="437.9,206.9 442.9,202.2" fill="none" stroke="#d8f2ff" stroke-width="0.7" />
<polyline points="438.4,202.9 441.9,205.9" fill="none" stroke="#bfe6f8" stroke-width="0.5" />
<path d="M444.3,215.1 L444.3,198.9 Q444.3,193.8 449.1,193.8 L453.1,193.8 Q457.90000000000003,193.8 457.90000000000003,198.9 L457.90000000000003,215.1 Q451.1,216.7 444.3,215.1 Z" fill="url(#bg)" stroke="#ebe6f8" stroke-width="0.5"/>
<path d="M448.40000000000003,187.6 Q448.40000000000003,186.4 451.1,186.4 Q453.8,186.4 453.8,187.6 L453.8,194.0 L448.40000000000003,194.0 Z" fill="#f6c200"/>
<rect x="448.4" y="192.2" width="5.4" height="1.8" fill="#dca000" stroke="none" stroke-width="0.6" />
<ellipse cx="451.1" cy="187.4" rx="1.9" ry="0.8" fill="#7f98c0" stroke="none" stroke-width="0.6" />
<path d="M445.1,203.4 L457.1,203.4 L457.1,212.70000000000002 Q451.1,214.0 445.1,212.70000000000002 Z" fill="#58c4f2"/>
<ellipse cx="451.1" cy="203.2" rx="2.8" ry="1.1" fill="#f6c400" stroke="none" stroke-width="0.6" />
<polyline points="448.6,210.9 453.6,206.2" fill="none" stroke="#d8f2ff" stroke-width="0.7" />
<polyline points="449.1,206.9 452.6,209.9" fill="none" stroke="#bfe6f8" stroke-width="0.5" />
<path d="M455.0,219.1 L455.0,202.9 Q455.0,197.8 459.8,197.8 L463.8,197.8 Q468.6,197.8 468.6,202.9 L468.6,219.1 Q461.8,220.7 455.0,219.1 Z" fill="url(#bg)" stroke="#ebe6f8" stroke-width="0.5"/>
<path d="M459.1,191.6 Q459.1,190.4 461.8,190.4 Q464.5,190.4 464.5,191.6 L464.5,198.0 L459.1,198.0 Z" fill="#f6c200"/>
<rect x="459.1" y="196.2" width="5.4" height="1.8" fill="#dca000" stroke="none" stroke-width="0.6" />
<ellipse cx="461.8" cy="191.4" rx="1.9" ry="0.8" fill="#7f98c0" stroke="none" stroke-width="0.6" />
<path d="M455.8,207.4 L467.8,207.4 L467.8,216.70000000000002 Q461.8,218.0 455.8,216.70000000000002 Z" fill="#58c4f2"/>
<ellipse cx="461.8" cy="207.2" rx="2.8" ry="1.1" fill="#f6c400" stroke="none" stroke-width="0.6" />
<polyline points="459.3,214.9 464.3,210.2" fill="none" stroke="#d8f2ff" stroke-width="0.7" />
<polyline points="459.8,210.9 463.3,213.9" fill="none" stroke="#bfe6f8" stroke-width="0.5" />
<g transform="translate(556.1,109.4) scale(1.0)">
<ellipse cx="-21.4" cy="60.5" rx="5.8" ry="10" fill="#e0e0e0" transform="rotate(10 -21.4 60.5)"/>
<ellipse cx="21.4" cy="60.5" rx="5.8" ry="10" fill="#e0e0e0" transform="rotate(-10 21.4 60.5)"/>
<path d="M-24,56 Q-21,44 -12,40" fill="none" stroke="#111" stroke-width="1.2"/>
<path d="M24,56 Q21,44 12,40" fill="none" stroke="#111" stroke-width="1.2"/>
<path d="M-17.5,50 Q-16,39 -8,38 L8,38 Q16,39 17.5,50 L17.5,58 L-17.5,58 Z" fill="#ffffff"/>
<path d="M-6,38.6 L0.5,45 L7,38.6 Z" fill="#f0d090"/>
<path d="M-14.5,39.5 L-9.5,39 L-9.5,49 L-14.5,49 Z M8.5,39 L13.5,39.5 L13.5,49 L8.5,49 Z" fill="#14a0d2"/>
<path d="M-13.5,47.5 L13.5,47.5 L14,57.2 L16.5,58 L16.5,94 L1.5,94 L0.6,80 L-0.6,80 L-1.5,94 L-17,94 L-17,58 L-14,57.2 Z" fill="#14a0d2"/>
<circle cx="-8.5" cy="48.3" r="1.2" fill="#fff"/>
<circle cx="7.5" cy="48.3" r="1.2" fill="#fff"/>
<circle cx="-7.5" cy="54.2" r="1.2" fill="#fff"/>
<circle cx="6.5" cy="54.2" r="1.2" fill="#fff"/>
<ellipse cx="-7.5" cy="96.3" rx="7.4" ry="3.5" fill="#fff" stroke="#111" stroke-width="1.2"/>
<ellipse cx="8" cy="96.3" rx="7.4" ry="3.5" fill="#fff" stroke="#111" stroke-width="1.2"/>
<circle cx="0" cy="18.9" r="18.9" fill="#e6e6e6" stroke="#b8c8d0" stroke-width="0.7"/>
<path d="M-11,31 Q0,40 11,31" fill="none" stroke="#333" stroke-width="1"/>
<path d="M-2.5,28.3 Q0,30.5 2.5,28.3" fill="none" stroke="#777" stroke-width="0.7"/>
<circle cx="-8" cy="26.3" r="0.9" fill="#222"/><circle cx="8" cy="26.3" r="0.9" fill="#222"/>
<path d="M-21.4,18.8 C-21.4,5 -11,-0.5 0,-0.5 C11,-0.5 21.4,5 21.4,19.4 L19,20.8 Q0,30 -19,20.6 Z" fill="#ff0000"/>
</g>
<g transform="translate(540.9,210) scale(1.04)">
<polygon points="-4.1,-37.0 14.1,-46.9 20.5,-35.2 22.9,-47.5 60.3,-34.0 62.1,-28.2 35.0,-15.5 33.9,-22.5" fill="#9c9a34" stroke="#6f6d20" stroke-width="0.5" />
<polyline points="20.5,-35.2 16.0,-31.0 34.0,-22.8" fill="none" stroke="#7f7d28" stroke-width="0.5" />
<rect x="19.4" y="-31.7" width="4.6" height="5.0" fill="#f5c400" stroke="none" stroke-width="0.6" />
<ellipse cx="21.7" cy="-31.7" rx="2.3" ry="1.2" fill="#fff3a0" stroke="#c8a000" stroke-width="0.3" />
<ellipse cx="21.7" cy="-31.7" rx="1.1" ry="0.6" fill="#7aa0c8" stroke="none" stroke-width="0.6" />
<rect x="26.4" y="-28.7" width="4.6" height="5.0" fill="#f5c400" stroke="none" stroke-width="0.6" />
<ellipse cx="28.7" cy="-28.7" rx="2.3" ry="1.2" fill="#fff3a0" stroke="#c8a000" stroke-width="0.3" />
<ellipse cx="28.7" cy="-28.7" rx="1.1" ry="0.6" fill="#7aa0c8" stroke="none" stroke-width="0.6" />
<rect x="33.4" y="-25.2" width="4.6" height="5.0" fill="#f5c400" stroke="none" stroke-width="0.6" />
<ellipse cx="35.7" cy="-25.2" rx="2.3" ry="1.2" fill="#fff3a0" stroke="#c8a000" stroke-width="0.3" />
<ellipse cx="35.7" cy="-25.2" rx="1.1" ry="0.6" fill="#7aa0c8" stroke="none" stroke-width="0.6" />
<rect x="40.5" y="-22.3" width="4.6" height="5.0" fill="#f5c400" stroke="none" stroke-width="0.6" />
<ellipse cx="42.8" cy="-22.3" rx="2.3" ry="1.2" fill="#fff3a0" stroke="#c8a000" stroke-width="0.3" />
<ellipse cx="42.8" cy="-22.3" rx="1.1" ry="0.6" fill="#7aa0c8" stroke="none" stroke-width="0.6" />
<polygon points="-4.1,-37.0 33.9,-22.5 34.6,-11.8 0.0,-22.9" fill="#ffcf3c" stroke="#b08a20" stroke-width="0.5" />
<polygon points="0.0,-22.9 34.6,-11.8 34.6,12.8 0.0,0.0" fill="#ffc933" stroke="#b08a20" stroke-width="0.5" />
<polygon points="34.6,-11.8 55.6,-21.1 55.6,4.6 34.6,12.8" fill="#ffff99" stroke="#b0a040" stroke-width="0.5" />
<polygon points="34.6,-11.8 35.0,-15.5 62.1,-28.2 55.6,-21.1" fill="#ffff9c" stroke="#b0a040" stroke-width="0.5" />
<polygon points="33.9,-22.5 35.5,-17.0 35.0,-15.5" fill="#e8e8f4" stroke="none" stroke-width="0.6" />
</g>
<g transform="translate(509.2,240.7) scale(1.0)">
<polygon points="-4.1,-37.0 14.1,-46.9 20.5,-35.2 22.9,-47.5 60.3,-34.0 62.1,-28.2 35.0,-15.5 33.9,-22.5" fill="#9c9a34" stroke="#6f6d20" stroke-width="0.5" />
<polyline points="20.5,-35.2 16.0,-31.0 34.0,-22.8" fill="none" stroke="#7f7d28" stroke-width="0.5" />
<rect x="19.4" y="-31.7" width="4.6" height="5.0" fill="#f5c400" stroke="none" stroke-width="0.6" />
<ellipse cx="21.7" cy="-31.7" rx="2.3" ry="1.2" fill="#fff3a0" stroke="#c8a000" stroke-width="0.3" />
<ellipse cx="21.7" cy="-31.7" rx="1.1" ry="0.6" fill="#7aa0c8" stroke="none" stroke-width="0.6" />
<rect x="26.4" y="-28.7" width="4.6" height="5.0" fill="#f5c400" stroke="none" stroke-width="0.6" />
<ellipse cx="28.7" cy="-28.7" rx="2.3" ry="1.2" fill="#fff3a0" stroke="#c8a000" stroke-width="0.3" />
<ellipse cx="28.7" cy="-28.7" rx="1.1" ry="0.6" fill="#7aa0c8" stroke="none" stroke-width="0.6" />
<rect x="33.4" y="-25.2" width="4.6" height="5.0" fill="#f5c400" stroke="none" stroke-width="0.6" />
<ellipse cx="35.7" cy="-25.2" rx="2.3" ry="1.2" fill="#fff3a0" stroke="#c8a000" stroke-width="0.3" />
<ellipse cx="35.7" cy="-25.2" rx="1.1" ry="0.6" fill="#7aa0c8" stroke="none" stroke-width="0.6" />
<rect x="40.5" y="-22.3" width="4.6" height="5.0" fill="#f5c400" stroke="none" stroke-width="0.6" />
<ellipse cx="42.8" cy="-22.3" rx="2.3" ry="1.2" fill="#fff3a0" stroke="#c8a000" stroke-width="0.3" />
<ellipse cx="42.8" cy="-22.3" rx="1.1" ry="0.6" fill="#7aa0c8" stroke="none" stroke-width="0.6" />
<polygon points="-4.1,-37.0 33.9,-22.5 34.6,-11.8 0.0,-22.9" fill="#ffcf3c" stroke="#b08a20" stroke-width="0.5" />
<polygon points="0.0,-22.9 34.6,-11.8 34.6,12.8 0.0,0.0" fill="#ffc933" stroke="#b08a20" stroke-width="0.5" />
<polygon points="34.6,-11.8 55.6,-21.1 55.6,4.6 34.6,12.8" fill="#ffff99" stroke="#b0a040" stroke-width="0.5" />
<polygon points="34.6,-11.8 35.0,-15.5 62.1,-28.2 55.6,-21.1" fill="#ffff9c" stroke="#b0a040" stroke-width="0.5" />
<polygon points="33.9,-22.5 35.5,-17.0 35.0,-15.5" fill="#e8e8f4" stroke="none" stroke-width="0.6" />
</g>
<g transform="translate(489.9,207.6) scale(0.99)">
<ellipse cx="-21.4" cy="60.5" rx="5.8" ry="10" fill="#e0e0e0" transform="rotate(10 -21.4 60.5)"/>
<ellipse cx="21.4" cy="60.5" rx="5.8" ry="10" fill="#e0e0e0" transform="rotate(-10 21.4 60.5)"/>
<path d="M-24,56 Q-21,44 -12,40" fill="none" stroke="#111" stroke-width="1.2"/>
<path d="M24,56 Q21,44 12,40" fill="none" stroke="#111" stroke-width="1.2"/>
<path d="M-17.5,50 Q-16,39 -8,38 L8,38 Q16,39 17.5,50 L17.5,58 L-17.5,58 Z" fill="#ffffff"/>
<path d="M-6,38.6 L0.5,45 L7,38.6 Z" fill="#f0d090"/>
<path d="M-14.5,39.5 L-9.5,39 L-9.5,49 L-14.5,49 Z M8.5,39 L13.5,39.5 L13.5,49 L8.5,49 Z" fill="#14a0d2"/>
<path d="M-13.5,47.5 L13.5,47.5 L14,57.2 L16.5,58 L16.5,94 L1.5,94 L0.6,80 L-0.6,80 L-1.5,94 L-17,94 L-17,58 L-14,57.2 Z" fill="#14a0d2"/>
<circle cx="-8.5" cy="48.3" r="1.2" fill="#fff"/>
<circle cx="7.5" cy="48.3" r="1.2" fill="#fff"/>
<circle cx="-7.5" cy="54.2" r="1.2" fill="#fff"/>
<circle cx="6.5" cy="54.2" r="1.2" fill="#fff"/>
<ellipse cx="-7.5" cy="96.3" rx="7.4" ry="3.5" fill="#fff" stroke="#111" stroke-width="1.2"/>
<ellipse cx="8" cy="96.3" rx="7.4" ry="3.5" fill="#fff" stroke="#111" stroke-width="1.2"/>
<circle cx="0" cy="18.9" r="18.9" fill="#e6e6e6" stroke="#b8c8d0" stroke-width="0.7"/>
<path d="M-11,31 Q0,40 11,31" fill="none" stroke="#333" stroke-width="1"/>
<path d="M-2.5,28.3 Q0,30.5 2.5,28.3" fill="none" stroke="#777" stroke-width="0.7"/>
<circle cx="-8" cy="26.3" r="0.9" fill="#222"/><circle cx="8" cy="26.3" r="0.9" fill="#222"/>
<path d="M-21.4,18.8 C-21.4,5 -11,-0.5 0,-0.5 C11,-0.5 21.4,5 21.4,19.4 L19,20.8 Q0,30 -19,20.6 Z" fill="#ff0000"/>
</g>
<polygon points="606.0,230.7 1112.0,426.5 1112.0,442.5 598.0,246.7" fill="#5a5a5a" stroke="#444" stroke-width="0.5" />
<polygon points="798.0,303.9 968.0,368.6 960.0,384.6 790.0,319.9" fill="#7f9ec6" stroke="#5a7498" stroke-width="0.4" />
<polyline points="799.0,305.4 792.0,319.9" fill="none" stroke="#d4e2f2" stroke-width="1.1" />
<polyline points="802.2,306.7 795.2,321.2" fill="none" stroke="#d4e2f2" stroke-width="1.1" />
<polyline points="805.4,307.9 798.4,322.4" fill="none" stroke="#d4e2f2" stroke-width="1.1" />
<polyline points="808.6,309.1 801.6,323.6" fill="none" stroke="#d4e2f2" stroke-width="1.1" />
<polyline points="811.8,310.3 804.8,324.8" fill="none" stroke="#d4e2f2" stroke-width="1.1" />
<polyline points="815.0,311.5 808.0,326.0" fill="none" stroke="#d4e2f2" stroke-width="1.1" />
<polyline points="818.2,312.8 811.2,327.3" fill="none" stroke="#d4e2f2" stroke-width="1.1" />
<polyline points="821.4,314.0 814.4,328.5" fill="none" stroke="#d4e2f2" stroke-width="1.1" />
<polyline points="824.6,315.2 817.6,329.7" fill="none" stroke="#d4e2f2" stroke-width="1.1" />
<polyline points="827.8,316.4 820.8,330.9" fill="none" stroke="#d4e2f2" stroke-width="1.1" />
<polyline points="831.0,317.6 824.0,332.1" fill="none" stroke="#d4e2f2" stroke-width="1.1" />
<polyline points="834.2,318.8 827.2,333.3" fill="none" stroke="#d4e2f2" stroke-width="1.1" />
<polyline points="837.4,320.1 830.4,334.6" fill="none" stroke="#d4e2f2" stroke-width="1.1" />
<polyline points="840.6,321.3 833.6,335.8" fill="none" stroke="#d4e2f2" stroke-width="1.1" />
<polyline points="843.8,322.5 836.8,337.0" fill="none" stroke="#d4e2f2" stroke-width="1.1" />
<polyline points="847.0,323.7 840.0,338.2" fill="none" stroke="#d4e2f2" stroke-width="1.1" />
<polyline points="850.2,324.9 843.2,339.4" fill="none" stroke="#d4e2f2" stroke-width="1.1" />
<polyline points="853.4,326.2 846.4,340.7" fill="none" stroke="#d4e2f2" stroke-width="1.1" />
<polyline points="856.6,327.4 849.6,341.9" fill="none" stroke="#d4e2f2" stroke-width="1.1" />
<polyline points="859.8,328.6 852.8,343.1" fill="none" stroke="#d4e2f2" stroke-width="1.1" />
<polyline points="863.0,329.8 856.0,344.3" fill="none" stroke="#d4e2f2" stroke-width="1.1" />
<polyline points="866.2,331.0 859.2,345.5" fill="none" stroke="#d4e2f2" stroke-width="1.1" />
<polyline points="869.4,332.3 862.4,346.8" fill="none" stroke="#d4e2f2" stroke-width="1.1" />
<polyline points="872.6,333.5 865.6,348.0" fill="none" stroke="#d4e2f2" stroke-width="1.1" />
<polyline points="875.8,334.7 868.8,349.2" fill="none" stroke="#d4e2f2" stroke-width="1.1" />
<polyline points="879.0,335.9 872.0,350.4" fill="none" stroke="#d4e2f2" stroke-width="1.1" />
<polyline points="882.2,337.1 875.2,351.6" fill="none" stroke="#d4e2f2" stroke-width="1.1" />
<polyline points="885.4,338.4 878.4,352.9" fill="none" stroke="#d4e2f2" stroke-width="1.1" />
<polyline points="888.6,339.6 881.6,354.1" fill="none" stroke="#d4e2f2" stroke-width="1.1" />
<polyline points="891.8,340.8 884.8,355.3" fill="none" stroke="#d4e2f2" stroke-width="1.1" />
<polyline points="895.0,342.0 888.0,356.5" fill="none" stroke="#d4e2f2" stroke-width="1.1" />
<polyline points="898.2,343.2 891.2,357.7" fill="none" stroke="#d4e2f2" stroke-width="1.1" />
<polyline points="901.4,344.5 894.4,359.0" fill="none" stroke="#d4e2f2" stroke-width="1.1" />
<polyline points="904.6,345.7 897.6,360.2" fill="none" stroke="#d4e2f2" stroke-width="1.1" />
<polyline points="907.8,346.9 900.8,361.4" fill="none" stroke="#d4e2f2" stroke-width="1.1" />
<polyline points="911.0,348.1 904.0,362.6" fill="none" stroke="#d4e2f2" stroke-width="1.1" />
<polyline points="914.2,349.3 907.2,363.8" fill="none" stroke="#d4e2f2" stroke-width="1.1" />
<polyline points="917.4,350.5 910.4,365.0" fill="none" stroke="#d4e2f2" stroke-width="1.1" />
<polyline points="920.6,351.8 913.6,366.3" fill="none" stroke="#d4e2f2" stroke-width="1.1" />
<polyline points="923.8,353.0 916.8,367.5" fill="none" stroke="#d4e2f2" stroke-width="1.1" />
<polyline points="927.0,354.2 920.0,368.7" fill="none" stroke="#d4e2f2" stroke-width="1.1" />
<polyline points="930.2,355.4 923.2,369.9" fill="none" stroke="#d4e2f2" stroke-width="1.1" />
<polyline points="933.4,356.6 926.4,371.1" fill="none" stroke="#d4e2f2" stroke-width="1.1" />
<polyline points="936.6,357.9 929.6,372.4" fill="none" stroke="#d4e2f2" stroke-width="1.1" />
<polyline points="939.8,359.1 932.8,373.6" fill="none" stroke="#d4e2f2" stroke-width="1.1" />
<polyline points="943.0,360.3 936.0,374.8" fill="none" stroke="#d4e2f2" stroke-width="1.1" />
<polyline points="946.2,361.5 939.2,376.0" fill="none" stroke="#d4e2f2" stroke-width="1.1" />
<polyline points="949.4,362.7 942.4,377.2" fill="none" stroke="#d4e2f2" stroke-width="1.1" />
<polyline points="952.6,364.0 945.6,378.5" fill="none" stroke="#d4e2f2" stroke-width="1.1" />
<polyline points="955.8,365.2 948.8,379.7" fill="none" stroke="#d4e2f2" stroke-width="1.1" />
<polyline points="959.0,366.4 952.0,380.9" fill="none" stroke="#d4e2f2" stroke-width="1.1" />
<polyline points="962.2,367.6 955.2,382.1" fill="none" stroke="#d4e2f2" stroke-width="1.1" />
<polyline points="965.4,368.8 958.4,383.3" fill="none" stroke="#d4e2f2" stroke-width="1.1" />
<polygon points="606.0,227.2 1112.0,423.0 1112.0,426.5 606.0,230.7" fill="#dadada" stroke="#8a8a8a" stroke-width="0.5" />
<g transform="translate(784.8,204.1) scale(1.0)">
<ellipse cx="-21.4" cy="60.5" rx="5.8" ry="10" fill="#e0e0e0" transform="rotate(10 -21.4 60.5)"/>
<ellipse cx="21.4" cy="60.5" rx="5.8" ry="10" fill="#e0e0e0" transform="rotate(-10 21.4 60.5)"/>
<path d="M-24,56 Q-21,44 -12,40" fill="none" stroke="#111" stroke-width="1.2"/>
<path d="M24,56 Q21,44 12,40" fill="none" stroke="#111" stroke-width="1.2"/>
<path d="M-17.5,50 Q-16,39 -8,38 L8,38 Q16,39 17.5,50 L17.5,58 L-17.5,58 Z" fill="#ffffff"/>
<path d="M-6,38.6 L0.5,45 L7,38.6 Z" fill="#f0d090"/>
<path d="M-14.5,39.5 L-9.5,39 L-9.5,49 L-14.5,49 Z M8.5,39 L13.5,39.5 L13.5,49 L8.5,49 Z" fill="#14a0d2"/>
<path d="M-13.5,47.5 L13.5,47.5 L14,57.2 L16.5,58 L16.5,94 L1.5,94 L0.6,80 L-0.6,80 L-1.5,94 L-17,94 L-17,58 L-14,57.2 Z" fill="#14a0d2"/>
<circle cx="-8.5" cy="48.3" r="1.2" fill="#fff"/>
<circle cx="7.5" cy="48.3" r="1.2" fill="#fff"/>
<circle cx="-7.5" cy="54.2" r="1.2" fill="#fff"/>
<circle cx="6.5" cy="54.2" r="1.2" fill="#fff"/>
<ellipse cx="-7.5" cy="96.3" rx="7.4" ry="3.5" fill="#fff" stroke="#111" stroke-width="1.2"/>
<ellipse cx="8" cy="96.3" rx="7.4" ry="3.5" fill="#fff" stroke="#111" stroke-width="1.2"/>
<circle cx="0" cy="18.9" r="18.9" fill="#e6e6e6" stroke="#b8c8d0" stroke-width="0.7"/>
<path d="M-11,31 Q0,40 11,31" fill="none" stroke="#333" stroke-width="1"/>
<path d="M-2.5,28.3 Q0,30.5 2.5,28.3" fill="none" stroke="#777" stroke-width="0.7"/>
<circle cx="-8" cy="26.3" r="0.9" fill="#222"/><circle cx="8" cy="26.3" r="0.9" fill="#222"/>
<path d="M-21.4,18.8 C-21.4,5 -11,-0.5 0,-0.5 C11,-0.5 21.4,5 21.4,19.4 L19,20.8 Q0,30 -19,20.6 Z" fill="#ff0000"/>
</g>
<polygon points="721.4,207.0 725.8,206.0 725.8,274.0 721.4,274.0" fill="#a9c0d6" stroke="#3c5068" stroke-width="0.5" />
<polygon points="725.8,206.0 730.1,207.5 730.1,274.0 725.8,274.0" fill="#6e7a86" stroke="#3c4c5c" stroke-width="0.5" />
<polygon points="721.4,207.0 725.8,206.0 730.1,207.5 726.0,208.5" fill="#2a6ab8" stroke="none" stroke-width="0.6" />
<rect x="564.2" y="261.0" width="25.0" height="34.3" fill="#c4c4c4" stroke="#7a7a7a" stroke-width="0.6" />
<polyline points="577.0,261.0 577.0,295.0" fill="none" stroke="#a8a8a8" stroke-width="0.6" />
<polygon points="557.5,299.4 574.0,293.5 581.0,291.0 602.0,295.5 601.0,298.5 584.0,298.5 588.0,311.5 585.0,313.0 577.0,300.0 559.0,302.5" fill="#b4b4b4" stroke="#6a6a6a" stroke-width="0.5" />
<rect x="559.5" y="302.0" width="2.0" height="7.5" fill="#777" stroke="none" stroke-width="0.6" />
<ellipse cx="560.5" cy="309.5" rx="2.6" ry="1.3" fill="#333" stroke="none" stroke-width="0.6" />
<rect x="599.0" y="298.0" width="2.0" height="7.0" fill="#777" stroke="none" stroke-width="0.6" />
<ellipse cx="600.0" cy="305.0" rx="2.6" ry="1.3" fill="#333" stroke="none" stroke-width="0.6" />
<rect x="585.2" y="312.0" width="2.0" height="6.5" fill="#777" stroke="none" stroke-width="0.6" />
<ellipse cx="586.2" cy="318.5" rx="2.6" ry="1.3" fill="#333" stroke="none" stroke-width="0.6" />
<rect x="574.3" y="242.6" width="6.7" height="53.0" fill="#a4a4a4" stroke="#6a6a6a" stroke-width="0.6" />
<ellipse cx="572.6" cy="240.2" rx="15.0" ry="7.5" fill="#6e6e6e" stroke="#4a4a4a" stroke-width="0.5" />
<ellipse cx="572.6" cy="237.6" rx="15.0" ry="7.5" fill="#8e8e8e" stroke="#5a5a5a" stroke-width="0.6" />
<rect x="569.2" y="222.5" width="6.7" height="15.0" fill="#d6d6d6" stroke="#777" stroke-width="0.5" />
<ellipse cx="572.5" cy="237.5" rx="3.4" ry="1.3" fill="#bdbdbd" stroke="none" stroke-width="0.6" />
<ellipse cx="572.5" cy="222.5" rx="3.4" ry="1.4" fill="#9a9a9a" stroke="#666" stroke-width="0.4" />
<rect x="584.3" y="233.4" width="7.5" height="6.7" fill="#3a3a3a" stroke="none" stroke-width="0.6" />
<g transform="translate(598.5,247) scale(1.0)">
<polygon points="-4.1,-37.0 14.1,-46.9 20.5,-35.2 22.9,-47.5 60.3,-34.0 62.1,-28.2 35.0,-15.5 33.9,-22.5" fill="#9c9a34" stroke="#6f6d20" stroke-width="0.5" />
<polyline points="20.5,-35.2 16.0,-31.0 34.0,-22.8" fill="none" stroke="#7f7d28" stroke-width="0.5" />
<rect x="19.4" y="-31.7" width="4.6" height="5.0" fill="#f5c400" stroke="none" stroke-width="0.6" />
<ellipse cx="21.7" cy="-31.7" rx="2.3" ry="1.2" fill="#fff3a0" stroke="#c8a000" stroke-width="0.3" />
<ellipse cx="21.7" cy="-31.7" rx="1.1" ry="0.6" fill="#7aa0c8" stroke="none" stroke-width="0.6" />
<rect x="26.4" y="-28.7" width="4.6" height="5.0" fill="#f5c400" stroke="none" stroke-width="0.6" />
<ellipse cx="28.7" cy="-28.7" rx="2.3" ry="1.2" fill="#fff3a0" stroke="#c8a000" stroke-width="0.3" />
<ellipse cx="28.7" cy="-28.7" rx="1.1" ry="0.6" fill="#7aa0c8" stroke="none" stroke-width="0.6" />
<rect x="33.4" y="-25.2" width="4.6" height="5.0" fill="#f5c400" stroke="none" stroke-width="0.6" />
<ellipse cx="35.7" cy="-25.2" rx="2.3" ry="1.2" fill="#fff3a0" stroke="#c8a000" stroke-width="0.3" />
<ellipse cx="35.7" cy="-25.2" rx="1.1" ry="0.6" fill="#7aa0c8" stroke="none" stroke-width="0.6" />
<rect x="40.5" y="-22.3" width="4.6" height="5.0" fill="#f5c400" stroke="none" stroke-width="0.6" />
<ellipse cx="42.8" cy="-22.3" rx="2.3" ry="1.2" fill="#fff3a0" stroke="#c8a000" stroke-width="0.3" />
<ellipse cx="42.8" cy="-22.3" rx="1.1" ry="0.6" fill="#7aa0c8" stroke="none" stroke-width="0.6" />
<polygon points="-4.1,-37.0 33.9,-22.5 34.6,-11.8 0.0,-22.9" fill="#ffcf3c" stroke="#b08a20" stroke-width="0.5" />
<polygon points="0.0,-22.9 34.6,-11.8 34.6,12.8 0.0,0.0" fill="#ffc933" stroke="#b08a20" stroke-width="0.5" />
<polygon points="34.6,-11.8 55.6,-21.1 55.6,4.6 34.6,12.8" fill="#ffff99" stroke="#b0a040" stroke-width="0.5" />
<polygon points="34.6,-11.8 35.0,-15.5 62.1,-28.2 55.6,-21.1" fill="#ffff9c" stroke="#b0a040" stroke-width="0.5" />
<polygon points="33.9,-22.5 35.5,-17.0 35.0,-15.5" fill="#e8e8f4" stroke="none" stroke-width="0.6" />
</g>
<polygon points="597.7,223.0 600.0,221.7 603.6,224.0 603.6,236.8 597.7,238.0" fill="#8e1f34" stroke="#4a1018" stroke-width="0.4" />
<rect x="600.5" y="221.0" width="1.2" height="9.0" fill="#bbb" stroke="none" stroke-width="0.6" />
<polygon points="579.3,241.8 594.4,244.3 594.4,250.1 580.1,252.7" fill="#8e1f34" stroke="#4a1018" stroke-width="0.4" />
<polygon points="595.2,243.5 607.0,240.5 618.6,239.3 618.6,245.0 607.0,247.0 595.2,249.5" fill="#8e1f34" stroke="#4a1018" stroke-width="0.4" />
<polygon points="618.6,241.8 627.0,242.5 627.0,246.0 618.6,245.5" fill="#f0f0f8" stroke="#777" stroke-width="0.4" />
<rect x="589.0" y="244.0" width="9.0" height="6.0" fill="#9a9a9a" stroke="#555" stroke-width="0.4" />
<polyline points="584.0,246.0 588.0,248.5" fill="none" stroke="#eee" stroke-width="0.8" />
<polyline points="604.0,242.0 610.0,244.5" fill="none" stroke="#ddd" stroke-width="0.8" />
<rect x="596.0" y="247.0" width="4.0" height="4.0" fill="#222" stroke="none" stroke-width="0.6" />
<g transform="translate(667.3,273.7) scale(1.0)">
<polygon points="-4.1,-37.0 14.1,-46.9 20.5,-35.2 22.9,-47.5 60.3,-34.0 62.1,-28.2 35.0,-15.5 33.9,-22.5" fill="#9c9a34" stroke="#6f6d20" stroke-width="0.5" />
<polyline points="20.5,-35.2 16.0,-31.0 34.0,-22.8" fill="none" stroke="#7f7d28" stroke-width="0.5" />
<rect x="19.4" y="-31.7" width="4.6" height="5.0" fill="#f5c400" stroke="none" stroke-width="0.6" />
<ellipse cx="21.7" cy="-31.7" rx="2.3" ry="1.2" fill="#fff3a0" stroke="#c8a000" stroke-width="0.3" />
<ellipse cx="21.7" cy="-31.7" rx="1.1" ry="0.6" fill="#7aa0c8" stroke="none" stroke-width="0.6" />
<rect x="26.4" y="-28.7" width="4.6" height="5.0" fill="#f5c400" stroke="none" stroke-width="0.6" />
<ellipse cx="28.7" cy="-28.7" rx="2.3" ry="1.2" fill="#fff3a0" stroke="#c8a000" stroke-width="0.3" />
<ellipse cx="28.7" cy="-28.7" rx="1.1" ry="0.6" fill="#7aa0c8" stroke="none" stroke-width="0.6" />
<rect x="33.4" y="-25.2" width="4.6" height="5.0" fill="#f5c400" stroke="none" stroke-width="0.6" />
<ellipse cx="35.7" cy="-25.2" rx="2.3" ry="1.2" fill="#fff3a0" stroke="#c8a000" stroke-width="0.3" />
<ellipse cx="35.7" cy="-25.2" rx="1.1" ry="0.6" fill="#7aa0c8" stroke="none" stroke-width="0.6" />
<rect x="40.5" y="-22.3" width="4.6" height="5.0" fill="#f5c400" stroke="none" stroke-width="0.6" />
<ellipse cx="42.8" cy="-22.3" rx="2.3" ry="1.2" fill="#fff3a0" stroke="#c8a000" stroke-width="0.3" />
<ellipse cx="42.8" cy="-22.3" rx="1.1" ry="0.6" fill="#7aa0c8" stroke="none" stroke-width="0.6" />
<polygon points="-4.1,-37.0 33.9,-22.5 34.6,-11.8 0.0,-22.9" fill="#ffcf3c" stroke="#b08a20" stroke-width="0.5" />
<polygon points="0.0,-22.9 34.6,-11.8 34.6,12.8 0.0,0.0" fill="#ffc933" stroke="#b08a20" stroke-width="0.5" />
<polygon points="34.6,-11.8 55.6,-21.1 55.6,4.6 34.6,12.8" fill="#ffff99" stroke="#b0a040" stroke-width="0.5" />
<polygon points="34.6,-11.8 35.0,-15.5 62.1,-28.2 55.6,-21.1" fill="#ffff9c" stroke="#b0a040" stroke-width="0.5" />
<polygon points="33.9,-22.5 35.5,-17.0 35.0,-15.5" fill="#e8e8f4" stroke="none" stroke-width="0.6" />
</g>
<polygon points="696.0,231.5 724.5,219.0 724.5,223.3 696.0,236.0" fill="#2a6ab8" stroke="none" stroke-width="0.6" />
<polygon points="696.0,231.5 724.5,219.0 724.5,221.0 696.0,233.5" fill="#f4f4f0" stroke="none" stroke-width="0.6" />
<polygon points="689.4,237.6 695.7,237.6 696.9,246.3 686.9,246.3" fill="#d4562a" stroke="#8a3010" stroke-width="0.4" />
<polygon points="700.7,232.5 705.7,232.5 708.2,241.9 697.5,241.9" fill="#d4562a" stroke="#8a3010" stroke-width="0.4" />
<polygon points="686.3,228.0 691.0,226.3 696.3,227.5 696.3,236.0 691.0,237.6 686.3,236.5" fill="#f2dc20" stroke="#5a6a90" stroke-width="0.4" />
<polygon points="691.0,226.3 696.3,227.5 696.3,236.0 691.0,234.5" fill="#3a98e8" stroke="none" stroke-width="0.6" />
<polygon points="698.8,221.8 703.0,220.6 707.6,221.6 707.6,226.5 703.0,227.5 698.8,226.6" fill="#f2dc20" stroke="#5a6a90" stroke-width="0.4" />
<polygon points="703.0,220.6 707.6,221.6 707.6,226.5 703.0,225.5" fill="#3a98e8" stroke="none" stroke-width="0.6" />
<polygon points="598.0,246.2 1080.0,429.9 1080.0,434.4 598.0,250.7" fill="#dedede" stroke="#8a8a8a" stroke-width="0.5" />
<polyline points="598.0,247.9 1080.0,431.6" fill="none" stroke="#f6f6f6" stroke-width="1.0" />
<polygon points="598.0,250.7 1080.0,434.4 1080.0,442.9 598.0,259.2" fill="#a9a9a9" stroke="#7a7a7a" stroke-width="0.6" />
<polyline points="700.0,289.6 700.0,298.1" fill="none" stroke="#888" stroke-width="0.6" />
<polyline points="850.0,346.7 850.0,355.2" fill="none" stroke="#888" stroke-width="0.6" />
<polyline points="990.0,400.1 990.0,408.6" fill="none" stroke="#888" stroke-width="0.6" />
<polygon points="1080.0,429.9 1084.0,427.4 1084.0,440.4 1080.0,442.9" fill="#c8c8c8" stroke="#777" stroke-width="0.5" />
<rect x="636.5" y="272.0" width="4.0" height="30.0" fill="#d0d0d0" stroke="#6a6a6a" stroke-width="0.6" />
<polygon points="626.5,305.0 638.5,300.0 648.5,303.0 641.5,305.0 640.5,311.0 636.5,306.0" fill="#555555" stroke="#333" stroke-width="0.4" />
<rect x="960.3" y="404.0" width="4.0" height="28.0" fill="#d0d0d0" stroke="#6a6a6a" stroke-width="0.6" />
<polygon points="950.3,435.0 962.3,430.0 972.3,433.0 965.3,435.0 964.3,441.0 960.3,436.0" fill="#555555" stroke="#333" stroke-width="0.4" />
<polygon points="672.0,281.5 685.5,284.5 685.5,287.0 672.0,284.0" fill="#30a878" stroke="#1a6040" stroke-width="0.4" />
<rect x="675.5" y="276.0" width="2.2" height="9.0" fill="#3a9a40" stroke="none" stroke-width="0.6" />
<rect x="678.5" y="277.0" width="2.0" height="8.5" fill="#6ac04a" stroke="none" stroke-width="0.6" />
<polygon points="672.5,270.0 676.5,268.8 680.0,270.0 680.0,277.5 672.5,277.5" fill="#f0e020" stroke="#5a6a90" stroke-width="0.4" />
<polygon points="676.5,268.8 680.0,270.0 680.0,277.5 676.5,276.5" fill="#4a90e0" stroke="none" stroke-width="0.6" />
<polygon points="681.0,267.0 686.0,266.0 690.0,268.0 690.0,279.0 681.0,278.0" fill="#ff3a18" stroke="#a02000" stroke-width="0.4" />
<rect x="683.0" y="271.0" width="2.5" height="6.0" fill="#ffffff" stroke="none" stroke-width="0.6" />
<g transform="translate(740,300) scale(1.0)">
<polygon points="-4.1,-37.0 14.1,-46.9 20.5,-35.2 22.9,-47.5 60.3,-34.0 62.1,-28.2 35.0,-15.5 33.9,-22.5" fill="#9c9a34" stroke="#6f6d20" stroke-width="0.5" />
<polyline points="20.5,-35.2 16.0,-31.0 34.0,-22.8" fill="none" stroke="#7f7d28" stroke-width="0.5" />
<rect x="19.4" y="-31.7" width="4.6" height="5.0" fill="#f5c400" stroke="none" stroke-width="0.6" />
<ellipse cx="21.7" cy="-31.7" rx="2.3" ry="1.2" fill="#fff3a0" stroke="#c8a000" stroke-width="0.3" />
<ellipse cx="21.7" cy="-31.7" rx="1.1" ry="0.6" fill="#7aa0c8" stroke="none" stroke-width="0.6" />
<rect x="26.4" y="-28.7" width="4.6" height="5.0" fill="#f5c400" stroke="none" stroke-width="0.6" />
<ellipse cx="28.7" cy="-28.7" rx="2.3" ry="1.2" fill="#fff3a0" stroke="#c8a000" stroke-width="0.3" />
<ellipse cx="28.7" cy="-28.7" rx="1.1" ry="0.6" fill="#7aa0c8" stroke="none" stroke-width="0.6" />
<rect x="33.4" y="-25.2" width="4.6" height="5.0" fill="#f5c400" stroke="none" stroke-width="0.6" />
<ellipse cx="35.7" cy="-25.2" rx="2.3" ry="1.2" fill="#fff3a0" stroke="#c8a000" stroke-width="0.3" />
<ellipse cx="35.7" cy="-25.2" rx="1.1" ry="0.6" fill="#7aa0c8" stroke="none" stroke-width="0.6" />
<rect x="40.5" y="-22.3" width="4.6" height="5.0" fill="#f5c400" stroke="none" stroke-width="0.6" />
<ellipse cx="42.8" cy="-22.3" rx="2.3" ry="1.2" fill="#fff3a0" stroke="#c8a000" stroke-width="0.3" />
<ellipse cx="42.8" cy="-22.3" rx="1.1" ry="0.6" fill="#7aa0c8" stroke="none" stroke-width="0.6" />
<polygon points="-4.1,-37.0 33.9,-22.5 34.6,-11.8 0.0,-22.9" fill="#ffcf3c" stroke="#b08a20" stroke-width="0.5" />
<polygon points="0.0,-22.9 34.6,-11.8 34.6,12.8 0.0,0.0" fill="#ffc933" stroke="#b08a20" stroke-width="0.5" />
<polygon points="34.6,-11.8 55.6,-21.1 55.6,4.6 34.6,12.8" fill="#ffff99" stroke="#b0a040" stroke-width="0.5" />
<polygon points="34.6,-11.8 35.0,-15.5 62.1,-28.2 55.6,-21.1" fill="#ffff9c" stroke="#b0a040" stroke-width="0.5" />
<polygon points="33.9,-22.5 35.5,-17.0 35.0,-15.5" fill="#e8e8f4" stroke="none" stroke-width="0.6" />
<polygon points="20.5,-7.8 29.0,-5.0 29.0,-1.6 20.5,-4.4" fill="#e8eefa" stroke="#8a8aa0" stroke-width="0.3" />
<rect x="25.8" y="-5.6" width="2.2" height="3.0" fill="#333" stroke="none" stroke-width="0.6" />
</g>
<rect x="796.0" y="352.0" width="3.5" height="33.0" fill="#c8c8c8" stroke="#666" stroke-width="0.6" />
<ellipse cx="797.7" cy="385.0" rx="4.5" ry="2.2" fill="#555" stroke="none" stroke-width="0.6" />
<rect x="832.0" y="348.0" width="3.5" height="50.0" fill="#c8c8c8" stroke="#666" stroke-width="0.6" />
<ellipse cx="834.0" cy="398.0" rx="4.5" ry="2.2" fill="#555" stroke="none" stroke-width="0.6" />
<polyline points="799.0,373.0 832.0,386.0" fill="none" stroke="#999" stroke-width="2.5" />
<polygon points="710.5,385.0 803.1,324.1 848.7,342.8 756.2,402.5" fill="#404040" stroke="#222" stroke-width="0.6" />
<polyline points="715.9,383.2 759.1,399.7" fill="none" stroke="#d2d2d2" stroke-width="2.7" />
<polyline points="722.4,378.9 765.6,395.5" fill="none" stroke="#d2d2d2" stroke-width="2.7" />
<polyline points="729.0,374.6 772.1,391.3" fill="none" stroke="#d2d2d2" stroke-width="2.7" />
<polyline points="735.5,370.4 778.7,387.1" fill="none" stroke="#d2d2d2" stroke-width="2.7" />
<polyline points="742.0,366.1 785.2,382.9" fill="none" stroke="#d2d2d2" stroke-width="2.7" />
<polyline points="748.5,361.8 791.7,378.7" fill="none" stroke="#d2d2d2" stroke-width="2.7" />
<polyline points="755.0,357.5 798.2,374.5" fill="none" stroke="#d2d2d2" stroke-width="2.7" />
<polyline points="761.6,353.2 804.7,370.2" fill="none" stroke="#d2d2d2" stroke-width="2.7" />
<polyline points="768.1,348.9 811.2,366.0" fill="none" stroke="#d2d2d2" stroke-width="2.7" />
<polyline points="774.6,344.6 817.7,361.8" fill="none" stroke="#d2d2d2" stroke-width="2.7" />
<polyline points="781.1,340.3 824.2,357.6" fill="none" stroke="#d2d2d2" stroke-width="2.7" />
<polyline points="787.6,336.1 830.8,353.4" fill="none" stroke="#d2d2d2" stroke-width="2.7" />
<polyline points="794.2,331.8 837.3,349.2" fill="none" stroke="#d2d2d2" stroke-width="2.7" />
<polyline points="800.7,327.5 843.8,345.0" fill="none" stroke="#d2d2d2" stroke-width="2.7" />
<polygon points="756.2,402.5 848.7,342.8 848.7,348.7 756.2,408.4" fill="#f0f0f0" stroke="#777" stroke-width="0.6" />
<polygon points="710.5,385.0 756.2,402.5 756.2,408.4 710.5,389.0" fill="#cfcfcf" stroke="#666" stroke-width="0.5" />
<rect x="735.5" y="397.0" width="4.0" height="27.0" fill="#c8c8c8" stroke="#666" stroke-width="0.6" />
<ellipse cx="738.7" cy="424.0" rx="5.0" ry="2.4" fill="#555" stroke="none" stroke-width="0.6" />
<rect x="774.0" y="404.0" width="4.0" height="34.0" fill="#c8c8c8" stroke="#666" stroke-width="0.6" />
<ellipse cx="776.1" cy="438.0" rx="5.0" ry="2.4" fill="#555" stroke="none" stroke-width="0.6" />
<polyline points="739.0,409.0 775.0,424.0" fill="none" stroke="#999" stroke-width="2.5" />
<g transform="translate(736.1,380.4) scale(1.0)">
<polygon points="-4.1,-37.0 14.1,-46.9 20.5,-35.2 22.9,-47.5 60.3,-34.0 62.1,-28.2 35.0,-15.5 33.9,-22.5" fill="#9c9a34" stroke="#6f6d20" stroke-width="0.5" />
<polyline points="20.5,-35.2 16.0,-31.0 34.0,-22.8" fill="none" stroke="#7f7d28" stroke-width="0.5" />
<rect x="19.4" y="-31.7" width="4.6" height="5.0" fill="#f5c400" stroke="none" stroke-width="0.6" />
<ellipse cx="21.7" cy="-31.7" rx="2.3" ry="1.2" fill="#fff3a0" stroke="#c8a000" stroke-width="0.3" />
<ellipse cx="21.7" cy="-31.7" rx="1.1" ry="0.6" fill="#7aa0c8" stroke="none" stroke-width="0.6" />
<rect x="26.4" y="-28.7" width="4.6" height="5.0" fill="#f5c400" stroke="none" stroke-width="0.6" />
<ellipse cx="28.7" cy="-28.7" rx="2.3" ry="1.2" fill="#fff3a0" stroke="#c8a000" stroke-width="0.3" />
<ellipse cx="28.7" cy="-28.7" rx="1.1" ry="0.6" fill="#7aa0c8" stroke="none" stroke-width="0.6" />
<rect x="33.4" y="-25.2" width="4.6" height="5.0" fill="#f5c400" stroke="none" stroke-width="0.6" />
<ellipse cx="35.7" cy="-25.2" rx="2.3" ry="1.2" fill="#fff3a0" stroke="#c8a000" stroke-width="0.3" />
<ellipse cx="35.7" cy="-25.2" rx="1.1" ry="0.6" fill="#7aa0c8" stroke="none" stroke-width="0.6" />
<rect x="40.5" y="-22.3" width="4.6" height="5.0" fill="#f5c400" stroke="none" stroke-width="0.6" />
<ellipse cx="42.8" cy="-22.3" rx="2.3" ry="1.2" fill="#fff3a0" stroke="#c8a000" stroke-width="0.3" />
<ellipse cx="42.8" cy="-22.3" rx="1.1" ry="0.6" fill="#7aa0c8" stroke="none" stroke-width="0.6" />
<polygon points="-4.1,-37.0 33.9,-22.5 34.6,-11.8 0.0,-22.9" fill="#ffcf3c" stroke="#b08a20" stroke-width="0.5" />
<polygon points="0.0,-22.9 34.6,-11.8 34.6,12.8 0.0,0.0" fill="#ffc933" stroke="#b08a20" stroke-width="0.5" />
<polygon points="34.6,-11.8 55.6,-21.1 55.6,4.6 34.6,12.8" fill="#ffff99" stroke="#b0a040" stroke-width="0.5" />
<polygon points="34.6,-11.8 35.0,-15.5 62.1,-28.2 55.6,-21.1" fill="#ffff9c" stroke="#b0a040" stroke-width="0.5" />
<polygon points="33.9,-22.5 35.5,-17.0 35.0,-15.5" fill="#e8e8f4" stroke="none" stroke-width="0.6" />
<polygon points="20.5,-7.8 29.0,-5.0 29.0,-1.6 20.5,-4.4" fill="#e8eefa" stroke="#8a8aa0" stroke-width="0.3" />
<rect x="25.8" y="-5.6" width="2.2" height="3.0" fill="#333" stroke="none" stroke-width="0.6" />
</g>
<polygon points="900.0,308.0 911.0,304.0 911.0,323.0 900.0,327.0" fill="#a8a8a8" stroke="#777" stroke-width="0.5" />
<polygon points="924.4,291.0 931.8,287.5 931.8,330.0 924.4,333.0" fill="#d6d6d6" stroke="#888" stroke-width="0.5" />
<polygon points="862.2,316.2 866.2,314.6 955.0,334.5 954.5,340.3 887.3,325.2 862.2,323.0" fill="#d6d6d6" stroke="#888" stroke-width="0.5" />
<polygon points="887.3,325.2 954.5,340.3 954.5,346.0 940.5,348.8 887.3,334.0" fill="#9c9c9c" stroke="#777" stroke-width="0.5" />
<polygon points="909.4,341.4 946.4,353.6 946.4,382.6 909.4,370.4" fill="#ffc933" stroke="#a88a20" stroke-width="0.6" />
<polygon points="946.4,353.6 969.4,345.6 969.4,374.6 946.4,382.6" fill="#ffff99" stroke="#a88a20" stroke-width="0.6" />
<polygon points="909.4,341.4 932.4,333.3 969.4,345.6 946.4,353.6" fill="#ffd24a" stroke="#a88a20" stroke-width="0.6" />
<polyline points="920.9,337.4 957.9,349.6" fill="none" stroke="#a88a20" stroke-width="0.5" />
<polygon points="936.0,366.1 943.0,368.5 943.0,372.0 936.0,369.6" fill="#ffffff" stroke="#666" stroke-width="0.4" />
<polygon points="887.3,316.6 950.5,332.0 954.5,340.3 887.3,325.2" fill="#d6d6d6" stroke="#888" stroke-width="0.5" />
<polygon points="887.3,325.2 954.5,340.3 954.5,346.0 940.5,348.8 887.3,334.0" fill="#9c9c9c" stroke="#777" stroke-width="0.5" />
<polyline points="925.0,333.0 934.0,322.0" fill="none" stroke="#333" stroke-width="1.6" />
<rect x="936.0" y="323.0" width="2.5" height="11.0" fill="#333" stroke="none" stroke-width="0.6" />
<ellipse cx="940.0" cy="320.5" rx="8.5" ry="8.0" fill="#8a8a8a" stroke="#555" stroke-width="0.5" />
<ellipse cx="937.5" cy="321.5" rx="8.5" ry="8.0" fill="#eeeeb0" stroke="#777" stroke-width="0.6" />
<ellipse cx="937.5" cy="321.5" rx="3.0" ry="2.8" fill="#bbb" stroke="none" stroke-width="0.6" />
<polygon points="868.3,304.0 918.9,282.9 931.8,287.5 882.1,307.7" fill="#f4f4f4" stroke="#999" stroke-width="0.6" />
<polygon points="882.1,307.7 931.8,287.5 931.8,293.0 882.1,313.5" fill="#dadada" stroke="#999" stroke-width="0.5" />
<polygon points="868.3,304.0 882.1,307.7 882.1,365.7 868.3,360.2" fill="#f2f2f2" stroke="#999" stroke-width="0.6" />
<polygon points="882.1,307.7 887.6,305.5 887.6,363.5 882.1,365.7" fill="#d4d4d4" stroke="#999" stroke-width="0.5" />
<polygon points="874.7,351.0 942.8,376.0 942.8,380.0 874.7,355.0" fill="#c8c8c8" stroke="#888" stroke-width="0.5" />
<polygon points="973.4,363.2 1009.5,376.2 1009.5,401.2 973.4,388.2" fill="#ffc933" stroke="#a88a20" stroke-width="0.6" />
<polygon points="1009.5,376.2 1032.6,368.1 1032.6,393.1 1009.5,401.2" fill="#ffff99" stroke="#a88a20" stroke-width="0.6" />
<polygon points="973.4,363.2 996.5,355.1 1032.6,368.1 1009.5,376.2" fill="#ffd24a" stroke="#a88a20" stroke-width="0.6" />
<polyline points="985.0,359.2 1021.0,372.2" fill="none" stroke="#a88a20" stroke-width="0.5" />
<polygon points="999.4,386.3 1006.4,388.8 1006.4,392.3 999.4,389.8" fill="#ffffff" stroke="#666" stroke-width="0.4" />
<polygon points="1040.6,390.3 1076.7,404.4 1076.7,428.4 1040.6,414.3" fill="#ffc933" stroke="#a88a20" stroke-width="0.6" />
<polygon points="1076.7,404.4 1099.7,396.3 1099.7,420.3 1076.7,428.4" fill="#ffff99" stroke="#a88a20" stroke-width="0.6" />
<polygon points="1040.6,390.3 1063.6,382.2 1099.7,396.3 1076.7,404.4" fill="#ffd24a" stroke="#a88a20" stroke-width="0.6" />
<polyline points="1052.1,386.3 1088.2,400.4" fill="none" stroke="#a88a20" stroke-width="0.5" />
<polygon points="1066.6,413.6 1073.6,416.4 1073.6,419.9 1066.6,417.1" fill="#ffffff" stroke="#666" stroke-width="0.4" />
<polygon points="1045.5,427.5 1059.0,430.5 1059.0,433.0 1045.5,430.0" fill="#30a878" stroke="#1a6040" stroke-width="0.4" />
<rect x="1049.0" y="422.0" width="2.2" height="9.0" fill="#3a9a40" stroke="none" stroke-width="0.6" />
<rect x="1052.0" y="423.0" width="2.0" height="8.5" fill="#6ac04a" stroke="none" stroke-width="0.6" />
<polygon points="1046.0,416.0 1050.0,414.8 1053.5,416.0 1053.5,423.5 1046.0,423.5" fill="#f0e020" stroke="#5a6a90" stroke-width="0.4" />
<polygon points="1050.0,414.8 1053.5,416.0 1053.5,423.5 1050.0,422.5" fill="#4a90e0" stroke="none" stroke-width="0.6" />
<polygon points="1054.5,413.0 1059.5,412.0 1063.5,414.0 1063.5,425.0 1054.5,424.0" fill="#ff3a18" stroke="#a02000" stroke-width="0.4" />
<rect x="1056.5" y="417.0" width="2.5" height="6.0" fill="#ffffff" stroke="none" stroke-width="0.6" />
<rect x="848.0" y="312.0" width="2.0" height="14.0" fill="#8a8a8a" stroke="none" stroke-width="0.6" />
<polygon points="834.0,309.0 850.0,303.0 855.5,305.5 839.5,311.5" fill="#e4ecf4" stroke="#6a7a8a" stroke-width="0.4" />
<polygon points="834.0,309.0 839.5,311.5 839.5,315.5 834.0,313.0" fill="#b8c8d8" stroke="#6a7a8a" stroke-width="0.4" />
<polygon points="839.5,311.5 855.5,305.5 855.5,309.5 839.5,315.5" fill="#a8bcd0" stroke="#6a7a8a" stroke-width="0.4" />
<polyline points="838.0,309.5 842.0,308.0" fill="none" stroke="#7a8aa0" stroke-width="0.5" />
<polyline points="841.5,308.2 845.5,306.7" fill="none" stroke="#7a8aa0" stroke-width="0.5" />
<polyline points="845.0,306.9 849.0,305.4" fill="none" stroke="#7a8aa0" stroke-width="0.5" />
<polyline points="848.5,305.6 852.5,304.1" fill="none" stroke="#7a8aa0" stroke-width="0.5" />
<polygon points="828.0,312.5 836.5,314.5 836.5,319.0 828.0,317.0" fill="#1a8a3a" stroke="none" stroke-width="0.6" />
<polygon points="1046.7,527.7 1120.2,554.4 1199.1,518.3 1199.1,527.7 1120.2,564.6 1046.7,537.8" fill="#1a86cc" stroke="#0a4a80" stroke-width="0.6" />
<polygon points="1046.7,527.7 1125.6,495.0 1199.1,518.3 1120.2,554.4" fill="#23303a" stroke="#111" stroke-width="0.5" />
<polygon points="1052.0,531.5 1066.0,536.5 1066.0,542.0 1052.0,537.0" fill="#1a1a1a" stroke="none" stroke-width="0.6" />
<polygon points="1078.0,541.0 1094.0,547.0 1094.0,552.5 1078.0,546.5" fill="#1a1a1a" stroke="none" stroke-width="0.6" />
<polygon points="1104.0,550.5 1118.0,555.5 1118.0,561.0 1104.0,556.0" fill="#1a1a1a" stroke="none" stroke-width="0.6" />
<polygon points="1126.0,553.0 1146.0,543.5 1146.0,549.0 1126.0,558.5" fill="#1a1a1a" stroke="none" stroke-width="0.6" />
<polygon points="1156.0,538.5 1176.0,529.0 1176.0,534.5 1156.0,544.0" fill="#1a1a1a" stroke="none" stroke-width="0.6" />
<polygon points="1182.0,526.0 1196.0,519.5 1196.0,525.0 1182.0,531.5" fill="#1a1a1a" stroke="none" stroke-width="0.6" />
<polygon points="1054.4,453.3 1120.4,475.3 1120.4,550.3 1054.4,528.3" fill="#f0a22a" stroke="#5a4518" stroke-width="0.6" />
<polygon points="1120.4,475.3 1195.8,442.0 1195.8,517.0 1120.4,550.3" fill="#d9d26c" stroke="#5a5518" stroke-width="0.6" />
<polygon points="1054.4,453.3 1129.8,420.0 1195.8,442.0 1120.4,475.3" fill="#d9a23c" stroke="#5a4518" stroke-width="0.6" />
<polyline points="1067.0,447.8 1133.0,469.8" fill="none" stroke="#8a6a30" stroke-width="0.5" stroke-dasharray="1.2,0.8"/>
<polyline points="1092.1,436.6 1158.1,458.6" fill="none" stroke="#8a6a30" stroke-width="0.5" stroke-dasharray="1.2,0.8"/>
<polyline points="1117.2,425.5 1183.2,447.6" fill="none" stroke="#8a6a30" stroke-width="0.5" stroke-dasharray="1.2,0.8"/>
<polyline points="1079.5,442.2 1145.5,464.2" fill="none" stroke="#5a4518" stroke-width="0.8" />
<polyline points="1104.7,431.1 1170.7,453.1" fill="none" stroke="#5a4518" stroke-width="0.8" />
<polyline points="1087.4,464.3 1162.8,431.0" fill="none" stroke="#5a6a30" stroke-width="0.9" />
<polyline points="1087.4,464.3 1087.4,539.3" fill="none" stroke="#5a6a30" stroke-width="0.9" />
<polyline points="1054.4,478.3 1120.4,500.3" fill="none" stroke="#5a4518" stroke-width="0.8" />
<polyline points="1120.4,500.3 1195.8,467.0" fill="none" stroke="#5a5518" stroke-width="0.8" />
<polyline points="1054.4,503.3 1120.4,525.3" fill="none" stroke="#5a4518" stroke-width="0.8" />
<polyline points="1120.4,525.3 1195.8,492.0" fill="none" stroke="#5a5518" stroke-width="0.8" />
<polyline points="1145.5,464.2 1145.5,539.2" fill="none" stroke="#7a5a28" stroke-width="0.9" />
<polyline points="1170.7,453.1 1170.7,528.1" fill="none" stroke="#7a5a28" stroke-width="0.9" />
<polygon points="1073.9,468.8 1081.9,471.5 1081.9,476.3 1073.9,473.6" fill="#ffffff" stroke="#444" stroke-width="0.4" />
<polyline points="1075.4,471.0 1080.4,472.7" fill="none" stroke="#666" stroke-width="0.6" />
<polygon points="1073.9,493.8 1081.9,496.5 1081.9,501.3 1073.9,498.6" fill="#ffffff" stroke="#444" stroke-width="0.4" />
<polyline points="1075.4,496.0 1080.4,497.7" fill="none" stroke="#666" stroke-width="0.6" />
<polygon points="1073.9,518.8 1081.9,521.5 1081.9,526.3 1073.9,523.6" fill="#ffffff" stroke="#444" stroke-width="0.4" />
<polyline points="1075.4,521.0 1080.4,522.7" fill="none" stroke="#666" stroke-width="0.6" />
<polygon points="1106.9,479.8 1114.9,482.5 1114.9,487.3 1106.9,484.6" fill="#ffffff" stroke="#444" stroke-width="0.4" />
<polyline points="1108.4,482.0 1113.4,483.7" fill="none" stroke="#666" stroke-width="0.6" />
<polygon points="1106.9,504.8 1114.9,507.5 1114.9,512.3 1106.9,509.6" fill="#ffffff" stroke="#444" stroke-width="0.4" />
<polyline points="1108.4,507.0 1113.4,508.7" fill="none" stroke="#666" stroke-width="0.6" />
<polygon points="1106.9,529.8 1114.9,532.5 1114.9,537.3 1106.9,534.6" fill="#ffffff" stroke="#444" stroke-width="0.4" />
<polyline points="1108.4,532.0 1113.4,533.7" fill="none" stroke="#666" stroke-width="0.6" />
<g transform="translate(1009.6,452) scale(1.0)">
<ellipse cx="-21.4" cy="60.5" rx="5.8" ry="10" fill="#e0e0e0" transform="rotate(10 -21.4 60.5)"/>
<ellipse cx="21.4" cy="60.5" rx="5.8" ry="10" fill="#e0e0e0" transform="rotate(-10 21.4 60.5)"/>
<path d="M-24,56 Q-21,44 -12,40" fill="none" stroke="#111" stroke-width="1.2"/>
<path d="M24,56 Q21,44 12,40" fill="none" stroke="#111" stroke-width="1.2"/>
<path d="M-17.5,50 Q-16,39 -8,38 L8,38 Q16,39 17.5,50 L17.5,58 L-17.5,58 Z" fill="#ffffff"/>
<path d="M-6,38.6 L0.5,45 L7,38.6 Z" fill="#f0d090"/>
<path d="M-14.5,39.5 L-9.5,39 L-9.5,49 L-14.5,49 Z M8.5,39 L13.5,39.5 L13.5,49 L8.5,49 Z" fill="#14a0d2"/>
<path d="M-13.5,47.5 L13.5,47.5 L14,57.2 L16.5,58 L16.5,94 L1.5,94 L0.6,80 L-0.6,80 L-1.5,94 L-17,94 L-17,58 L-14,57.2 Z" fill="#14a0d2"/>
<circle cx="-8.5" cy="48.3" r="1.2" fill="#fff"/>
<circle cx="7.5" cy="48.3" r="1.2" fill="#fff"/>
<circle cx="-7.5" cy="54.2" r="1.2" fill="#fff"/>
<circle cx="6.5" cy="54.2" r="1.2" fill="#fff"/>
<ellipse cx="-7.5" cy="96.3" rx="7.4" ry="3.5" fill="#fff" stroke="#111" stroke-width="1.2"/>
<ellipse cx="8" cy="96.3" rx="7.4" ry="3.5" fill="#fff" stroke="#111" stroke-width="1.2"/>
<circle cx="0" cy="18.9" r="18.9" fill="#e6e6e6" stroke="#b8c8d0" stroke-width="0.7"/>
<path d="M-11,31 Q0,40 11,31" fill="none" stroke="#333" stroke-width="1"/>
<path d="M-2.5,28.3 Q0,30.5 2.5,28.3" fill="none" stroke="#777" stroke-width="0.7"/>
<circle cx="-8" cy="26.3" r="0.9" fill="#222"/><circle cx="8" cy="26.3" r="0.9" fill="#222"/>
<path d="M-21.4,18.8 C-21.4,5 -11,-0.5 0,-0.5 C11,-0.5 21.4,5 21.4,19.4 L19,20.8 Q0,30 -19,20.6 Z" fill="#ff0000"/>
</g>
<polygon points="252.4,164.0 265.9,157.6 266.5,239.2 243.6,252.1 243.6,191.5" fill="#d0d0d0" stroke="#8a8a8a" stroke-width="0.6" />
<polyline points="243.6,193.0 266.2,188.5" fill="none" stroke="#b0b0b0" stroke-width="0.5" />
<polygon points="224.9,153.5 238.4,147.6 265.9,157.6 252.4,164.0" fill="#ececec" stroke="#8a8a8a" stroke-width="0.6" />
<polygon points="224.9,153.5 252.4,164.0 243.6,191.5 215.5,182.2" fill="#e2e2e2" stroke="#8a8a8a" stroke-width="0.6" />
<polygon points="226.7,157.0 250.1,166.3 242.5,189.2 217.9,181.0" fill="#1a8cf8" stroke="#f4d0b0" stroke-width="0.9" />
<polygon points="215.5,182.2 243.6,191.5 243.1,202.1 216.1,194.7" fill="#d8d8d8" stroke="#8a8a8a" stroke-width="0.5" />
<polygon points="216.7,185.5 243.0,194.0 243.0,201.2 216.7,193.2" fill="#3c3c3c" stroke="none" stroke-width="0.6" />
<polygon points="216.1,194.7 243.1,202.3 243.1,245.6 216.1,236.8" fill="#ededed" stroke="#9a9a9a" stroke-width="0.6" />
<polygon points="215.5,237.4 243.1,246.2 243.6,252.1 215.5,243.0" fill="#d6d6d6" stroke="#8a8a8a" stroke-width="0.5" />
<rect x="239.0" y="220.0" width="2.2" height="9.5" fill="#f4f4f4" stroke="#999" stroke-width="0.5" rx="1"/>
<ellipse cx="259.4" cy="176.3" rx="3.5" ry="4.6" fill="#c6c6c6" stroke="#a6a6a6" stroke-width="0.6" />
<ellipse cx="260.6" cy="218.7" rx="3.5" ry="4.6" fill="#c6c6c6" stroke="#a6a6a6" stroke-width="0.6" />
<ellipse cx="260.6" cy="233.3" rx="3.5" ry="4.6" fill="#c6c6c6" stroke="#a6a6a6" stroke-width="0.6" />
<text x="224.5" y="167.5" font-size="6.6" fill="#ffffff" stroke="#ffffff" stroke-width="0.15" transform="rotate(19 224.5 167.5)">赋码关</text>
<text x="222.7" y="174.5" font-size="6.6" fill="#ffffff" stroke="#ffffff" stroke-width="0.15" transform="rotate(19 222.7 174.5)">联软件</text>
<polygon points="661.1,350.5 674.6,344.1 675.2,425.7 652.3,438.6 652.3,378.0" fill="#d0d0d0" stroke="#8a8a8a" stroke-width="0.6" />
<polyline points="652.3,379.5 674.9,375.0" fill="none" stroke="#b0b0b0" stroke-width="0.5" />
<polygon points="633.6,340.0 647.1,334.1 674.6,344.1 661.1,350.5" fill="#ececec" stroke="#8a8a8a" stroke-width="0.6" />
<polygon points="633.6,340.0 661.1,350.5 652.3,378.0 624.2,368.7" fill="#e2e2e2" stroke="#8a8a8a" stroke-width="0.6" />
<polygon points="635.4,343.5 658.8,352.8 651.2,375.7 626.6,367.5" fill="#1a8cf8" stroke="#f4d0b0" stroke-width="0.9" />
<polygon points="624.2,368.7 652.3,378.0 651.8,388.6 624.8,381.2" fill="#d8d8d8" stroke="#8a8a8a" stroke-width="0.5" />
<polygon points="625.4,372.0 651.7,380.5 651.7,387.7 625.4,379.7" fill="#3c3c3c" stroke="none" stroke-width="0.6" />
<polygon points="624.8,381.2 651.8,388.8 651.8,432.1 624.8,423.3" fill="#ededed" stroke="#9a9a9a" stroke-width="0.6" />
<polygon points="624.2,423.9 651.8,432.7 652.3,438.6 624.2,429.5" fill="#d6d6d6" stroke="#8a8a8a" stroke-width="0.5" />
<rect x="647.7" y="406.5" width="2.2" height="9.5" fill="#f4f4f4" stroke="#999" stroke-width="0.5" rx="1"/>
<ellipse cx="668.1" cy="362.8" rx="3.5" ry="4.6" fill="#c6c6c6" stroke="#a6a6a6" stroke-width="0.6" />
<ellipse cx="669.3" cy="405.2" rx="3.5" ry="4.6" fill="#c6c6c6" stroke="#a6a6a6" stroke-width="0.6" />
<ellipse cx="669.3" cy="419.8" rx="3.5" ry="4.6" fill="#c6c6c6" stroke="#a6a6a6" stroke-width="0.6" />
<text x="633.2" y="354.0" font-size="6.6" fill="#ffffff" stroke="#ffffff" stroke-width="0.15" transform="rotate(19 633.2 354.0)">赋码关</text>
<text x="631.4000000000001" y="361.0" font-size="6.6" fill="#ffffff" stroke="#ffffff" stroke-width="0.15" transform="rotate(19 631.4000000000001 361.0)">联软件</text>
<g transform="translate(284,205) scale(1.0)">
<ellipse cx="21" cy="25" rx="4" ry="0.8" fill="#cfcfcf"/>
<polygon points="4.3,8.3 8,6 12.5,4.5 19.6,4 23.1,6 23.6,8.5 21.1,11 16.6,13 11.5,13.5 6,12 4.3,10" fill="#1c1c2e"/>
<polygon points="16,13 21.1,11 23.6,16.6 23.6,21.6 20.1,24.6 16.6,24.1 16,22 18.6,18" fill="#1c1c2e"/>
<polygon points="8,6.3 12.5,5.3 19,9 18.6,10.5 15,9.5 9,7.5" fill="#f5d20a"/>
<polygon points="16.6,13 20,13 22,17.6 21,21 17.6,22 19,17.6" fill="#f5d20a"/>
<polygon points="6.5,9 11,9.5 10.5,11 6.5,10.5" fill="#55556a"/>
</g>
<g transform="translate(552.3,360.9) scale(1.0)">
<ellipse cx="21" cy="25" rx="4" ry="0.8" fill="#cfcfcf"/>
<polygon points="4.3,8.3 8,6 12.5,4.5 19.6,4 23.1,6 23.6,8.5 21.1,11 16.6,13 11.5,13.5 6,12 4.3,10" fill="#1c1c2e"/>
<polygon points="16,13 21.1,11 23.6,16.6 23.6,21.6 20.1,24.6 16.6,24.1 16,22 18.6,18" fill="#1c1c2e"/>
<polygon points="8,6.3 12.5,5.3 19,9 18.6,10.5 15,9.5 9,7.5" fill="#f5d20a"/>
<polygon points="16.6,13 20,13 22,17.6 21,21 17.6,22 19,17.6" fill="#f5d20a"/>
<polygon points="6.5,9 11,9.5 10.5,11 6.5,10.5" fill="#55556a"/>
</g>
<g transform="translate(1052.3,560) scale(1.0)">
<ellipse cx="21" cy="25" rx="4" ry="0.8" fill="#cfcfcf"/>
<polygon points="4.3,8.3 8,6 12.5,4.5 19.6,4 23.1,6 23.6,8.5 21.1,11 16.6,13 11.5,13.5 6,12 4.3,10" fill="#1c1c2e"/>
<polygon points="16,13 21.1,11 23.6,16.6 23.6,21.6 20.1,24.6 16.6,24.1 16,22 18.6,18" fill="#1c1c2e"/>
<polygon points="8,6.3 12.5,5.3 19,9 18.6,10.5 15,9.5 9,7.5" fill="#f5d20a"/>
<polygon points="16.6,13 20,13 22,17.6 21,21 17.6,22 19,17.6" fill="#f5d20a"/>
<polygon points="6.5,9 11,9.5 10.5,11 6.5,10.5" fill="#55556a"/>
</g>
<polyline points="186.0,47.0 196.0,140.0" fill="none" stroke="#ff3030" stroke-width="0.9" />
<polyline points="307.5,83.0 292.0,95.0 262.0,101.0" fill="none" stroke="#ff3030" stroke-width="0.9" />
<polyline points="243.0,94.5 248.5,89.5" fill="none" stroke="#ff3030" stroke-width="0.9" />
<polyline points="716.3,197.5 708.3,223.0" fill="none" stroke="#ff3030" stroke-width="0.9" />
<polyline points="864.3,270.1 854.9,298.2" fill="none" stroke="#ff3030" stroke-width="0.9" />
<polyline points="693.6,286.5 684.7,312.5" fill="none" stroke="#ff3030" stroke-width="0.9" />
<polyline points="241.4,246.0 241.4,283.0" fill="none" stroke="#ff7070" stroke-width="0.6" />
<polyline points="568.7,332.8 595.0,301.4" fill="none" stroke="#ff5050" stroke-width="0.7" />
<polyline points="659.4,405.0 659.4,447.0" fill="none" stroke="#ff8080" stroke-width="0.6" />
<text x="301.8" y="67.95" font-size="12.8" fill="#2e2e2e" stroke="#2e2e2e" stroke-width="0.15" letter-spacing="0">剔除装置</text>
<text x="278.4" y="82.1" font-size="12.14" fill="#7a1818" stroke="#7a1818" stroke-width="0.28" letter-spacing="0">自动剔除无法识别的产品</text>
<text x="155" y="152.8" font-size="12.98" fill="#2e2e2e" stroke="#2e2e2e" stroke-width="0.15" letter-spacing="0">二维码识读</text>
<text x="151.2" y="165.35" font-size="10.11" fill="#7a1818" stroke="#7a1818" stroke-width="0.28" letter-spacing="0">采集瓶盖二维码</text>
<text x="524.5" y="91.75" font-size="13.01" fill="#2e2e2e" stroke="#2e2e2e" stroke-width="0.15" letter-spacing="0">人工装箱</text>
<text x="507" y="107.5" font-size="11.94" fill="#7a1818" stroke="#7a1818" stroke-width="0.28" letter-spacing="0">人工把酒瓶装入大箱</text>
<text x="697.7" y="167.0" font-size="12.94" fill="#2e2e2e" stroke="#2e2e2e" stroke-width="0.15" letter-spacing="0">二维码识读</text>
<text x="651.4" y="181.35" font-size="11.64" fill="#7a1818" stroke="#7a1818" stroke-width="0.28" letter-spacing="0">采集整箱瓶码，关联盒箱二维码数据</text>
<text x="852.3" y="251.8" font-size="12.65" fill="#2e2e2e" stroke="#2e2e2e" stroke-width="0.15" letter-spacing="0">剔除装置</text>
<text x="824.3" y="266.8" font-size="11.04" fill="#7a1818" stroke="#7a1818" stroke-width="0.28" letter-spacing="0">箱码/盒码不能识读，则剔除</text>
<text x="441" y="314.5" font-size="13.01" fill="#2e2e2e" stroke="#2e2e2e" stroke-width="0.15" letter-spacing="0">人工装箱</text>
<text x="419.5" y="330.25" font-size="11.27" fill="#7a1818" stroke="#7a1818" stroke-width="0.28" letter-spacing="0">人工把盒子装入大箱</text>
<text x="658.7" y="320.15" font-size="13.1" fill="#2e2e2e" stroke="#2e2e2e" stroke-width="0.15" letter-spacing="0">二维码识读</text>
<text x="618" y="333.7" font-size="10.93" fill="#7a1818" stroke="#7a1818" stroke-width="0.28" letter-spacing="0">采集箱码，关联瓶箱二维码数据</text>
<text x="549.4" y="339.95" font-size="6.8" fill="#3a3a3a" stroke="#3a3a3a" stroke-width="0.12" letter-spacing="0">自动贴标机</text>
<text x="552.5" y="349.9" font-size="6.23" fill="#7a1818" stroke="#7a1818" stroke-width="0.2" letter-spacing="0">贴箱签</text>
<text x="550.1" y="399.15" font-size="8.67" fill="#3a3a3a" stroke="#3a3a3a" stroke-width="0.12" letter-spacing="0">手持扫描枪</text>
<text x="545.8" y="412.15" font-size="8.63" fill="#7a1818" stroke="#7a1818" stroke-width="0.2" letter-spacing="0">异常处理，数据验证</text>
<text x="651.2" y="450.75" font-size="9.54" fill="#3a3a3a" stroke="#3a3a3a" stroke-width="0.15" letter-spacing="0">工控平台</text>
<text x="651.2" y="461.35" font-size="8.05" fill="#7a1818" stroke="#7a1818" stroke-width="0.2" letter-spacing="0">指挥设备有序工作</text>
<text x="651.2" y="469.85" font-size="8.07" fill="#7a1818" stroke="#7a1818" stroke-width="0.2" letter-spacing="0">关联包装身份码</text>
<text x="211.3" y="276.35" font-size="9.56" fill="#3a3a3a" stroke="#3a3a3a" stroke-width="0.15" letter-spacing="0">工控平台</text>
<text x="190" y="290.3" font-size="8.07" fill="#7a1818" stroke="#7a1818" stroke-width="0.2" letter-spacing="0">指挥设备有序工作</text>
<text x="190" y="298.3" font-size="8.14" fill="#7a1818" stroke="#7a1818" stroke-width="0.2" letter-spacing="0">关联包装身份码</text>
<text x="285.8" y="246.7" font-size="6.51" fill="#3a3a3a" stroke="#3a3a3a" stroke-width="0.12" letter-spacing="0">手持扫描枪</text>
<text x="271.1" y="259.7" font-size="6.12" fill="#7a1818" stroke="#7a1818" stroke-width="0.2" letter-spacing="0">异常处理，数据验证</text>
<text x="990.6" y="437.3" font-size="12.86" fill="#2e2e2e" stroke="#2e2e2e" stroke-width="0.15" letter-spacing="0">二维码识读</text>
<text x="1001.2" y="450.35" font-size="10.93" fill="#7a1818" stroke="#7a1818" stroke-width="0.28" letter-spacing="0">采集箱码</text>
<text x="981.3" y="578.15" font-size="13.16" fill="#2e2e2e" stroke="#2e2e2e" stroke-width="0.15" letter-spacing="0">人工码垛</text>
<text x="943.3" y="594.15" font-size="11.26" fill="#7a1818" stroke="#7a1818" stroke-width="0.28" letter-spacing="0">人工码垛，扫描垛首箱码</text>
</svg></body></html>
